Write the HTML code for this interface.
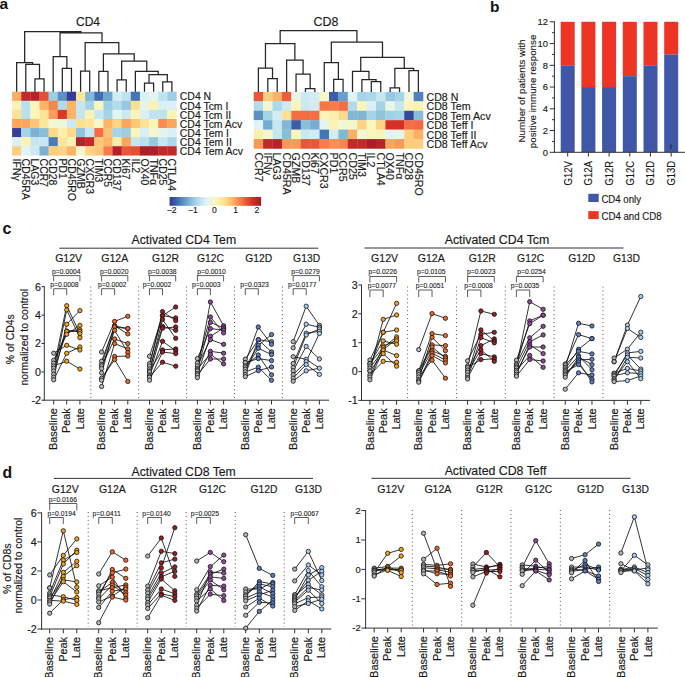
<!DOCTYPE html>
<html><head><meta charset="utf-8"><title>Figure</title>
<style>
html,body{margin:0;padding:0;background:#fff;}
body{width:685px;height:677px;overflow:hidden;}
svg{display:block;}
text{font-family:"Liberation Sans",sans-serif;}
</style></head>
<body><svg width="685" height="677" viewBox="0 0 685 677">
<rect width="685" height="677" fill="#fff"/>
<text x="-0.6" y="9.2" font-size="15.5" font-weight="bold" fill="#111">a</text>
<text x="76" y="26.4" font-size="12" fill="#1a1a1a" stroke="#1a1a1a" stroke-width="0.16">CD4</text>
<rect x="12.1" y="91.7" width="9.38" height="9.34" fill="#fdae61"/>
<rect x="21.23" y="91.7" width="9.38" height="9.34" fill="#c52828"/>
<rect x="30.36" y="91.7" width="9.38" height="9.34" fill="#b82229"/>
<rect x="39.49" y="91.7" width="9.38" height="9.34" fill="#e64e35"/>
<rect x="48.62" y="91.7" width="9.38" height="9.34" fill="#9dcee3"/>
<rect x="57.75" y="91.7" width="9.38" height="9.34" fill="#5d91c2"/>
<rect x="66.88" y="91.7" width="9.38" height="9.34" fill="#343e99"/>
<rect x="76.01" y="91.7" width="9.38" height="9.34" fill="#fde69c"/>
<rect x="85.14" y="91.7" width="9.38" height="9.34" fill="#82b8d7"/>
<rect x="94.27" y="91.7" width="9.38" height="9.34" fill="#426db0"/>
<rect x="103.4" y="91.7" width="9.38" height="9.34" fill="#6ea6cd"/>
<rect x="112.53" y="91.7" width="9.38" height="9.34" fill="#d3ecf4"/>
<rect x="121.66" y="91.7" width="9.38" height="9.34" fill="#bfe3ef"/>
<rect x="130.79" y="91.7" width="9.38" height="9.34" fill="#4575b4"/>
<rect x="139.92" y="91.7" width="9.38" height="9.34" fill="#d9f0f6"/>
<rect x="149.05" y="91.7" width="9.38" height="9.34" fill="#e3f4f1"/>
<rect x="158.18" y="91.7" width="9.38" height="9.34" fill="#bfe3ef"/>
<rect x="167.31" y="91.7" width="9.38" height="9.34" fill="#9dcee3"/>
<rect x="12.1" y="100.79" width="9.38" height="9.34" fill="#fcf2b4"/>
<rect x="21.23" y="100.79" width="9.38" height="9.34" fill="#b8e0ed"/>
<rect x="30.36" y="100.79" width="9.38" height="9.34" fill="#fbf5ba"/>
<rect x="39.49" y="100.79" width="9.38" height="9.34" fill="#fdb467"/>
<rect x="48.62" y="100.79" width="9.38" height="9.34" fill="#f7854e"/>
<rect x="57.75" y="100.79" width="9.38" height="9.34" fill="#b2dceb"/>
<rect x="66.88" y="100.79" width="9.38" height="9.34" fill="#fdb467"/>
<rect x="76.01" y="100.79" width="9.38" height="9.34" fill="#c6e6f0"/>
<rect x="85.14" y="100.79" width="9.38" height="9.34" fill="#a4d4e6"/>
<rect x="94.27" y="100.79" width="9.38" height="9.34" fill="#fbf5ba"/>
<rect x="103.4" y="100.79" width="9.38" height="9.34" fill="#9dcee3"/>
<rect x="112.53" y="100.79" width="9.38" height="9.34" fill="#b2dceb"/>
<rect x="121.66" y="100.79" width="9.38" height="9.34" fill="#96c8e0"/>
<rect x="130.79" y="100.79" width="9.38" height="9.34" fill="#fee090"/>
<rect x="139.92" y="100.79" width="9.38" height="9.34" fill="#e7f4ea"/>
<rect x="149.05" y="100.79" width="9.38" height="9.34" fill="#fcf2b4"/>
<rect x="158.18" y="100.79" width="9.38" height="9.34" fill="#d9f0f6"/>
<rect x="167.31" y="100.79" width="9.38" height="9.34" fill="#d9f0f6"/>
<rect x="12.1" y="109.88" width="9.38" height="9.34" fill="#fee396"/>
<rect x="21.23" y="109.88" width="9.38" height="9.34" fill="#b8e0ed"/>
<rect x="30.36" y="109.88" width="9.38" height="9.34" fill="#fbf5ba"/>
<rect x="39.49" y="109.88" width="9.38" height="9.34" fill="#fee396"/>
<rect x="48.62" y="109.88" width="9.38" height="9.34" fill="#fb9e5a"/>
<rect x="57.75" y="109.88" width="9.38" height="9.34" fill="#db382a"/>
<rect x="66.88" y="109.88" width="9.38" height="9.34" fill="#fdb467"/>
<rect x="76.01" y="109.88" width="9.38" height="9.34" fill="#c6e6f0"/>
<rect x="85.14" y="109.88" width="9.38" height="9.34" fill="#fcf2b4"/>
<rect x="94.27" y="109.88" width="9.38" height="9.34" fill="#c6e6f0"/>
<rect x="103.4" y="109.88" width="9.38" height="9.34" fill="#a4d4e6"/>
<rect x="112.53" y="109.88" width="9.38" height="9.34" fill="#e3f4f1"/>
<rect x="121.66" y="109.88" width="9.38" height="9.34" fill="#cce9f2"/>
<rect x="130.79" y="109.88" width="9.38" height="9.34" fill="#fbf5ba"/>
<rect x="139.92" y="109.88" width="9.38" height="9.34" fill="#d9f0f6"/>
<rect x="149.05" y="109.88" width="9.38" height="9.34" fill="#bfe3ef"/>
<rect x="158.18" y="109.88" width="9.38" height="9.34" fill="#bfe3ef"/>
<rect x="167.31" y="109.88" width="9.38" height="9.34" fill="#fcf3b6"/>
<rect x="12.1" y="118.97" width="9.38" height="9.34" fill="#fca65d"/>
<rect x="21.23" y="118.97" width="9.38" height="9.34" fill="#fca65d"/>
<rect x="30.36" y="118.97" width="9.38" height="9.34" fill="#fec778"/>
<rect x="39.49" y="118.97" width="9.38" height="9.34" fill="#fde69c"/>
<rect x="48.62" y="118.97" width="9.38" height="9.34" fill="#f1f6d5"/>
<rect x="57.75" y="118.97" width="9.38" height="9.34" fill="#f1f6d5"/>
<rect x="66.88" y="118.97" width="9.38" height="9.34" fill="#cce9f2"/>
<rect x="76.01" y="118.97" width="9.38" height="9.34" fill="#fee090"/>
<rect x="85.14" y="118.97" width="9.38" height="9.34" fill="#fde69c"/>
<rect x="94.27" y="118.97" width="9.38" height="9.34" fill="#f8f7c7"/>
<rect x="103.4" y="118.97" width="9.38" height="9.34" fill="#fdb467"/>
<rect x="112.53" y="118.97" width="9.38" height="9.34" fill="#fed484"/>
<rect x="121.66" y="118.97" width="9.38" height="9.34" fill="#fca65d"/>
<rect x="130.79" y="118.97" width="9.38" height="9.34" fill="#fec778"/>
<rect x="139.92" y="118.97" width="9.38" height="9.34" fill="#fee396"/>
<rect x="149.05" y="118.97" width="9.38" height="9.34" fill="#fcf3b6"/>
<rect x="158.18" y="118.97" width="9.38" height="9.34" fill="#f88e52"/>
<rect x="167.31" y="118.97" width="9.38" height="9.34" fill="#fca65d"/>
<rect x="12.1" y="128.06" width="9.38" height="9.34" fill="#343e99"/>
<rect x="21.23" y="128.06" width="9.38" height="9.34" fill="#a4d4e6"/>
<rect x="30.36" y="128.06" width="9.38" height="9.34" fill="#7bb2d4"/>
<rect x="39.49" y="128.06" width="9.38" height="9.34" fill="#89beda"/>
<rect x="48.62" y="128.06" width="9.38" height="9.34" fill="#feda8a"/>
<rect x="57.75" y="128.06" width="9.38" height="9.34" fill="#fcefae"/>
<rect x="66.88" y="128.06" width="9.38" height="9.34" fill="#feda8a"/>
<rect x="76.01" y="128.06" width="9.38" height="9.34" fill="#90c3dd"/>
<rect x="85.14" y="128.06" width="9.38" height="9.34" fill="#c6e6f0"/>
<rect x="94.27" y="128.06" width="9.38" height="9.34" fill="#f46d43"/>
<rect x="103.4" y="128.06" width="9.38" height="9.34" fill="#fdc173"/>
<rect x="112.53" y="128.06" width="9.38" height="9.34" fill="#a4d4e6"/>
<rect x="121.66" y="128.06" width="9.38" height="9.34" fill="#9dcee3"/>
<rect x="130.79" y="128.06" width="9.38" height="9.34" fill="#fbf5ba"/>
<rect x="139.92" y="128.06" width="9.38" height="9.34" fill="#d9f0f6"/>
<rect x="149.05" y="128.06" width="9.38" height="9.34" fill="#f4f7ce"/>
<rect x="158.18" y="128.06" width="9.38" height="9.34" fill="#e7f4ea"/>
<rect x="167.31" y="128.06" width="9.38" height="9.34" fill="#d9f0f6"/>
<rect x="12.1" y="137.15" width="9.38" height="9.34" fill="#d9f0f6"/>
<rect x="21.23" y="137.15" width="9.38" height="9.34" fill="#fcf2b4"/>
<rect x="30.36" y="137.15" width="9.38" height="9.34" fill="#c6e6f0"/>
<rect x="39.49" y="137.15" width="9.38" height="9.34" fill="#c6e6f0"/>
<rect x="48.62" y="137.15" width="9.38" height="9.34" fill="#4b7cb8"/>
<rect x="57.75" y="137.15" width="9.38" height="9.34" fill="#fde69c"/>
<rect x="66.88" y="137.15" width="9.38" height="9.34" fill="#fcf2b4"/>
<rect x="76.01" y="137.15" width="9.38" height="9.34" fill="#b82229"/>
<rect x="85.14" y="137.15" width="9.38" height="9.34" fill="#c82928"/>
<rect x="94.27" y="137.15" width="9.38" height="9.34" fill="#fec778"/>
<rect x="103.4" y="137.15" width="9.38" height="9.34" fill="#fdb467"/>
<rect x="112.53" y="137.15" width="9.38" height="9.34" fill="#fceca8"/>
<rect x="121.66" y="137.15" width="9.38" height="9.34" fill="#fca65d"/>
<rect x="130.79" y="137.15" width="9.38" height="9.34" fill="#c6e6f0"/>
<rect x="139.92" y="137.15" width="9.38" height="9.34" fill="#b8e0ed"/>
<rect x="149.05" y="137.15" width="9.38" height="9.34" fill="#96c8e0"/>
<rect x="158.18" y="137.15" width="9.38" height="9.34" fill="#c6e6f0"/>
<rect x="167.31" y="137.15" width="9.38" height="9.34" fill="#abd9e9"/>
<rect x="12.1" y="146.24" width="9.38" height="9.34" fill="#fecd7e"/>
<rect x="21.23" y="146.24" width="9.38" height="9.34" fill="#e0f3f8"/>
<rect x="30.36" y="146.24" width="9.38" height="9.34" fill="#cce9f2"/>
<rect x="39.49" y="146.24" width="9.38" height="9.34" fill="#7bb2d4"/>
<rect x="48.62" y="146.24" width="9.38" height="9.34" fill="#fecd7e"/>
<rect x="57.75" y="146.24" width="9.38" height="9.34" fill="#fed484"/>
<rect x="66.88" y="146.24" width="9.38" height="9.34" fill="#fdb467"/>
<rect x="76.01" y="146.24" width="9.38" height="9.34" fill="#f4f7ce"/>
<rect x="85.14" y="146.24" width="9.38" height="9.34" fill="#fed484"/>
<rect x="94.27" y="146.24" width="9.38" height="9.34" fill="#fec778"/>
<rect x="103.4" y="146.24" width="9.38" height="9.34" fill="#f67d4a"/>
<rect x="112.53" y="146.24" width="9.38" height="9.34" fill="#b52129"/>
<rect x="121.66" y="146.24" width="9.38" height="9.34" fill="#e95638"/>
<rect x="130.79" y="146.24" width="9.38" height="9.34" fill="#e64e35"/>
<rect x="139.92" y="146.24" width="9.38" height="9.34" fill="#ac1d2a"/>
<rect x="149.05" y="146.24" width="9.38" height="9.34" fill="#b01e29"/>
<rect x="158.18" y="146.24" width="9.38" height="9.34" fill="#c52828"/>
<rect x="167.31" y="146.24" width="9.38" height="9.34" fill="#c52828"/>
<text x="179.84" y="100.41" font-size="10.45" fill="#1a1a1a" stroke="#1a1a1a" stroke-width="0.16">CD4 N</text>
<text x="179.84" y="109.5" font-size="10.45" fill="#1a1a1a" stroke="#1a1a1a" stroke-width="0.16">CD4 Tcm I</text>
<text x="179.84" y="118.59" font-size="10.45" fill="#1a1a1a" stroke="#1a1a1a" stroke-width="0.16">CD4 Tcm II</text>
<text x="179.84" y="127.68" font-size="10.45" fill="#1a1a1a" stroke="#1a1a1a" stroke-width="0.16">CD4 Tcm Acv</text>
<text x="179.84" y="136.77" font-size="10.45" fill="#1a1a1a" stroke="#1a1a1a" stroke-width="0.16">CD4 Tem I</text>
<text x="179.84" y="145.86" font-size="10.45" fill="#1a1a1a" stroke="#1a1a1a" stroke-width="0.16">CD4 Tem II</text>
<text x="179.84" y="154.95" font-size="10.45" fill="#1a1a1a" stroke="#1a1a1a" stroke-width="0.16">CD4 Tem Acv</text>
<text transform="translate(12.9,158.6) rotate(90)" font-size="10.45" fill="#1a1a1a" stroke="#1a1a1a" stroke-width="0.16">IFNγ</text>
<text transform="translate(22.03,158.6) rotate(90)" font-size="10.45" fill="#1a1a1a" stroke="#1a1a1a" stroke-width="0.16">CD45RA</text>
<text transform="translate(31.16,158.6) rotate(90)" font-size="10.45" fill="#1a1a1a" stroke="#1a1a1a" stroke-width="0.16">LAG3</text>
<text transform="translate(40.29,158.6) rotate(90)" font-size="10.45" fill="#1a1a1a" stroke="#1a1a1a" stroke-width="0.16">CCR7</text>
<text transform="translate(49.42,158.6) rotate(90)" font-size="10.45" fill="#1a1a1a" stroke="#1a1a1a" stroke-width="0.16">CD28</text>
<text transform="translate(58.55,158.6) rotate(90)" font-size="10.45" fill="#1a1a1a" stroke="#1a1a1a" stroke-width="0.16">PD1</text>
<text transform="translate(67.68,158.6) rotate(90)" font-size="10.45" fill="#1a1a1a" stroke="#1a1a1a" stroke-width="0.16">CD45RO</text>
<text transform="translate(76.81,158.6) rotate(90)" font-size="10.45" fill="#1a1a1a" stroke="#1a1a1a" stroke-width="0.16">GZMB</text>
<text transform="translate(85.94,158.6) rotate(90)" font-size="10.45" fill="#1a1a1a" stroke="#1a1a1a" stroke-width="0.16">CXCR3</text>
<text transform="translate(95.07,158.6) rotate(90)" font-size="10.45" fill="#1a1a1a" stroke="#1a1a1a" stroke-width="0.16">TIM3</text>
<text transform="translate(104.2,158.6) rotate(90)" font-size="10.45" fill="#1a1a1a" stroke="#1a1a1a" stroke-width="0.16">CCR5</text>
<text transform="translate(113.33,158.6) rotate(90)" font-size="10.45" fill="#1a1a1a" stroke="#1a1a1a" stroke-width="0.16">CD137</text>
<text transform="translate(122.46,158.6) rotate(90)" font-size="10.45" fill="#1a1a1a" stroke="#1a1a1a" stroke-width="0.16">Ki67</text>
<text transform="translate(131.59,158.6) rotate(90)" font-size="10.45" fill="#1a1a1a" stroke="#1a1a1a" stroke-width="0.16">IL2</text>
<text transform="translate(140.72,158.6) rotate(90)" font-size="10.45" fill="#1a1a1a" stroke="#1a1a1a" stroke-width="0.16">OX40</text>
<text transform="translate(149.85,158.6) rotate(90)" font-size="10.45" fill="#1a1a1a" stroke="#1a1a1a" stroke-width="0.16">TNFα</text>
<text transform="translate(158.98,158.6) rotate(90)" font-size="10.45" fill="#1a1a1a" stroke="#1a1a1a" stroke-width="0.16">CD25</text>
<text transform="translate(168.11,158.6) rotate(90)" font-size="10.45" fill="#1a1a1a" stroke="#1a1a1a" stroke-width="0.16">CTLA4</text>
<path d="M34.93 91.7V78.9H44.05V91.7 M25.8 91.7V64.4H39.49V78.9 M16.66 91.7V62.7H32.64V64.4 M62.32 91.7V68.4H71.45V91.7 M53.19 91.7V56.5H66.88V68.4 M80.58 91.7V71.2H89.7V91.7 M98.84 91.7V71.3H107.97V91.7 M117.09 91.7V79.9H126.23V91.7 M144.49 91.7V83.2H153.62V91.7 M162.75 91.7V81.8H171.88V91.7 M149.05 83.2V74.7H167.31V81.8 M135.36 91.7V71.3H158.18V74.7 M121.66 79.9V61.1H146.77V71.3 M103.4 71.3V53.9H134.21V61.1 M85.14 71.2V42.7H118.81V53.9 M60.03 56.5V32.9H101.97V42.7 M24.65 62.7V31.6H81V32.9" fill="none" stroke="#262626" stroke-width="1.25"/>
<text x="313.5" y="26.4" font-size="12.4" fill="#1a1a1a" stroke="#1a1a1a" stroke-width="0.16">CD8</text>
<rect x="253.7" y="91.9" width="9.66" height="9.68" fill="#e95638"/>
<rect x="263.11" y="91.9" width="9.66" height="9.68" fill="#fecd7e"/>
<rect x="272.52" y="91.9" width="9.66" height="9.68" fill="#fdb467"/>
<rect x="281.93" y="91.9" width="9.66" height="9.68" fill="#ed5e3c"/>
<rect x="291.34" y="91.9" width="9.66" height="9.68" fill="#eaf5e3"/>
<rect x="300.75" y="91.9" width="9.66" height="9.68" fill="#cce9f2"/>
<rect x="310.16" y="91.9" width="9.66" height="9.68" fill="#d3ecf4"/>
<rect x="319.57" y="91.9" width="9.66" height="9.68" fill="#f8f7c7"/>
<rect x="328.98" y="91.9" width="9.66" height="9.68" fill="#3e5da8"/>
<rect x="338.39" y="91.9" width="9.66" height="9.68" fill="#689fca"/>
<rect x="347.8" y="91.9" width="9.66" height="9.68" fill="#e0f3f8"/>
<rect x="357.21" y="91.9" width="9.66" height="9.68" fill="#a4d4e6"/>
<rect x="366.62" y="91.9" width="9.66" height="9.68" fill="#abd9e9"/>
<rect x="376.03" y="91.9" width="9.66" height="9.68" fill="#c6e6f0"/>
<rect x="385.44" y="91.9" width="9.66" height="9.68" fill="#96c8e0"/>
<rect x="394.85" y="91.9" width="9.66" height="9.68" fill="#a4d4e6"/>
<rect x="404.26" y="91.9" width="9.66" height="9.68" fill="#eef6dc"/>
<rect x="413.67" y="91.9" width="9.66" height="9.68" fill="#5183bb"/>
<rect x="253.7" y="101.33" width="9.66" height="9.68" fill="#b2dceb"/>
<rect x="263.11" y="101.33" width="9.66" height="9.68" fill="#f1f6d5"/>
<rect x="272.52" y="101.33" width="9.66" height="9.68" fill="#abd9e9"/>
<rect x="281.93" y="101.33" width="9.66" height="9.68" fill="#cce9f2"/>
<rect x="291.34" y="101.33" width="9.66" height="9.68" fill="#fbf5ba"/>
<rect x="300.75" y="101.33" width="9.66" height="9.68" fill="#cce9f2"/>
<rect x="310.16" y="101.33" width="9.66" height="9.68" fill="#d3ecf4"/>
<rect x="319.57" y="101.33" width="9.66" height="9.68" fill="#f57547"/>
<rect x="328.98" y="101.33" width="9.66" height="9.68" fill="#f67d4a"/>
<rect x="338.39" y="101.33" width="9.66" height="9.68" fill="#f46d43"/>
<rect x="347.8" y="101.33" width="9.66" height="9.68" fill="#b2dceb"/>
<rect x="357.21" y="101.33" width="9.66" height="9.68" fill="#fbf5ba"/>
<rect x="366.62" y="101.33" width="9.66" height="9.68" fill="#d9f0f6"/>
<rect x="376.03" y="101.33" width="9.66" height="9.68" fill="#a4d4e6"/>
<rect x="385.44" y="101.33" width="9.66" height="9.68" fill="#eaf5e3"/>
<rect x="394.85" y="101.33" width="9.66" height="9.68" fill="#c6e6f0"/>
<rect x="404.26" y="101.33" width="9.66" height="9.68" fill="#fcf4b8"/>
<rect x="413.67" y="101.33" width="9.66" height="9.68" fill="#fcf2b4"/>
<rect x="253.7" y="110.76" width="9.66" height="9.68" fill="#5d91c2"/>
<rect x="263.11" y="110.76" width="9.66" height="9.68" fill="#a4d4e6"/>
<rect x="272.52" y="110.76" width="9.66" height="9.68" fill="#d3ecf4"/>
<rect x="281.93" y="110.76" width="9.66" height="9.68" fill="#fee090"/>
<rect x="291.34" y="110.76" width="9.66" height="9.68" fill="#f46d43"/>
<rect x="300.75" y="110.76" width="9.66" height="9.68" fill="#f46d43"/>
<rect x="310.16" y="110.76" width="9.66" height="9.68" fill="#f46d43"/>
<rect x="319.57" y="110.76" width="9.66" height="9.68" fill="#fbf5ba"/>
<rect x="328.98" y="110.76" width="9.66" height="9.68" fill="#fcefae"/>
<rect x="338.39" y="110.76" width="9.66" height="9.68" fill="#feda8a"/>
<rect x="347.8" y="110.76" width="9.66" height="9.68" fill="#82b8d7"/>
<rect x="357.21" y="110.76" width="9.66" height="9.68" fill="#7fb6d6"/>
<rect x="366.62" y="110.76" width="9.66" height="9.68" fill="#a4d4e6"/>
<rect x="376.03" y="110.76" width="9.66" height="9.68" fill="#90c3dd"/>
<rect x="385.44" y="110.76" width="9.66" height="9.68" fill="#a1d1e5"/>
<rect x="394.85" y="110.76" width="9.66" height="9.68" fill="#a4d4e6"/>
<rect x="404.26" y="110.76" width="9.66" height="9.68" fill="#36469d"/>
<rect x="413.67" y="110.76" width="9.66" height="9.68" fill="#89beda"/>
<rect x="253.7" y="120.19" width="9.66" height="9.68" fill="#e0f3f8"/>
<rect x="263.11" y="120.19" width="9.66" height="9.68" fill="#74add1"/>
<rect x="272.52" y="120.19" width="9.66" height="9.68" fill="#c6e6f0"/>
<rect x="281.93" y="120.19" width="9.66" height="9.68" fill="#82b8d7"/>
<rect x="291.34" y="120.19" width="9.66" height="9.68" fill="#3e5da8"/>
<rect x="300.75" y="120.19" width="9.66" height="9.68" fill="#89beda"/>
<rect x="310.16" y="120.19" width="9.66" height="9.68" fill="#74add1"/>
<rect x="319.57" y="120.19" width="9.66" height="9.68" fill="#e3f4f1"/>
<rect x="328.98" y="120.19" width="9.66" height="9.68" fill="#fcf2b4"/>
<rect x="338.39" y="120.19" width="9.66" height="9.68" fill="#f1f6d5"/>
<rect x="347.8" y="120.19" width="9.66" height="9.68" fill="#f4f7ce"/>
<rect x="357.21" y="120.19" width="9.66" height="9.68" fill="#fed484"/>
<rect x="366.62" y="120.19" width="9.66" height="9.68" fill="#fbf6bc"/>
<rect x="376.03" y="120.19" width="9.66" height="9.68" fill="#fed484"/>
<rect x="385.44" y="120.19" width="9.66" height="9.68" fill="#d52f27"/>
<rect x="394.85" y="120.19" width="9.66" height="9.68" fill="#d52f27"/>
<rect x="404.26" y="120.19" width="9.66" height="9.68" fill="#f46d43"/>
<rect x="413.67" y="120.19" width="9.66" height="9.68" fill="#f36a42"/>
<rect x="253.7" y="129.62" width="9.66" height="9.68" fill="#fcefae"/>
<rect x="263.11" y="129.62" width="9.66" height="9.68" fill="#f8f7c7"/>
<rect x="272.52" y="129.62" width="9.66" height="9.68" fill="#c6e6f0"/>
<rect x="281.93" y="129.62" width="9.66" height="9.68" fill="#89beda"/>
<rect x="291.34" y="129.62" width="9.66" height="9.68" fill="#fbf5ba"/>
<rect x="300.75" y="129.62" width="9.66" height="9.68" fill="#cce9f2"/>
<rect x="310.16" y="129.62" width="9.66" height="9.68" fill="#d3ecf4"/>
<rect x="319.57" y="129.62" width="9.66" height="9.68" fill="#4575b4"/>
<rect x="328.98" y="129.62" width="9.66" height="9.68" fill="#d3ecf4"/>
<rect x="338.39" y="129.62" width="9.66" height="9.68" fill="#82b8d7"/>
<rect x="347.8" y="129.62" width="9.66" height="9.68" fill="#fdb063"/>
<rect x="357.21" y="129.62" width="9.66" height="9.68" fill="#f1f6d5"/>
<rect x="366.62" y="129.62" width="9.66" height="9.68" fill="#fbf5ba"/>
<rect x="376.03" y="129.62" width="9.66" height="9.68" fill="#fbf4b9"/>
<rect x="385.44" y="129.62" width="9.66" height="9.68" fill="#e0f3f8"/>
<rect x="394.85" y="129.62" width="9.66" height="9.68" fill="#e7f4ea"/>
<rect x="404.26" y="129.62" width="9.66" height="9.68" fill="#fecd7e"/>
<rect x="413.67" y="129.62" width="9.66" height="9.68" fill="#fdb063"/>
<rect x="253.7" y="139.05" width="9.66" height="9.68" fill="#fa9656"/>
<rect x="263.11" y="139.05" width="9.66" height="9.68" fill="#c52828"/>
<rect x="272.52" y="139.05" width="9.66" height="9.68" fill="#b82229"/>
<rect x="281.93" y="139.05" width="9.66" height="9.68" fill="#fa9656"/>
<rect x="291.34" y="139.05" width="9.66" height="9.68" fill="#fa9a58"/>
<rect x="300.75" y="139.05" width="9.66" height="9.68" fill="#e95638"/>
<rect x="310.16" y="139.05" width="9.66" height="9.68" fill="#e95638"/>
<rect x="319.57" y="139.05" width="9.66" height="9.68" fill="#f67d4a"/>
<rect x="328.98" y="139.05" width="9.66" height="9.68" fill="#f88e52"/>
<rect x="338.39" y="139.05" width="9.66" height="9.68" fill="#f7854e"/>
<rect x="347.8" y="139.05" width="9.66" height="9.68" fill="#c52828"/>
<rect x="357.21" y="139.05" width="9.66" height="9.68" fill="#c52828"/>
<rect x="366.62" y="139.05" width="9.66" height="9.68" fill="#ac1d2a"/>
<rect x="376.03" y="139.05" width="9.66" height="9.68" fill="#b82229"/>
<rect x="385.44" y="139.05" width="9.66" height="9.68" fill="#fca65d"/>
<rect x="394.85" y="139.05" width="9.66" height="9.68" fill="#fa9a58"/>
<rect x="404.26" y="139.05" width="9.66" height="9.68" fill="#fecd7e"/>
<rect x="413.67" y="139.05" width="9.66" height="9.68" fill="#fecd7e"/>
<text x="426.48" y="100.85" font-size="10.65" fill="#1a1a1a" stroke="#1a1a1a" stroke-width="0.16">CD8 N</text>
<text x="426.48" y="110.28" font-size="10.65" fill="#1a1a1a" stroke="#1a1a1a" stroke-width="0.16">CD8 Tem</text>
<text x="426.48" y="119.71" font-size="10.65" fill="#1a1a1a" stroke="#1a1a1a" stroke-width="0.16">CD8 Tem Acv</text>
<text x="426.48" y="129.14" font-size="10.65" fill="#1a1a1a" stroke="#1a1a1a" stroke-width="0.16">CD8 Teff I</text>
<text x="426.48" y="138.57" font-size="10.65" fill="#1a1a1a" stroke="#1a1a1a" stroke-width="0.16">CD8 Teff II</text>
<text x="426.48" y="148" font-size="10.65" fill="#1a1a1a" stroke="#1a1a1a" stroke-width="0.16">CD8 Teff Acv</text>
<text transform="translate(254.57,152.6) rotate(90)" font-size="10.65" fill="#1a1a1a" stroke="#1a1a1a" stroke-width="0.16">CCR7</text>
<text transform="translate(263.98,152.6) rotate(90)" font-size="10.65" fill="#1a1a1a" stroke="#1a1a1a" stroke-width="0.16">IFNγ</text>
<text transform="translate(273.39,152.6) rotate(90)" font-size="10.65" fill="#1a1a1a" stroke="#1a1a1a" stroke-width="0.16">LAG3</text>
<text transform="translate(282.8,152.6) rotate(90)" font-size="10.65" fill="#1a1a1a" stroke="#1a1a1a" stroke-width="0.16">CD45RA</text>
<text transform="translate(292.21,152.6) rotate(90)" font-size="10.65" fill="#1a1a1a" stroke="#1a1a1a" stroke-width="0.16">GZMB</text>
<text transform="translate(301.62,152.6) rotate(90)" font-size="10.65" fill="#1a1a1a" stroke="#1a1a1a" stroke-width="0.16">CD137</text>
<text transform="translate(311.03,152.6) rotate(90)" font-size="10.65" fill="#1a1a1a" stroke="#1a1a1a" stroke-width="0.16">Ki67</text>
<text transform="translate(320.44,152.6) rotate(90)" font-size="10.65" fill="#1a1a1a" stroke="#1a1a1a" stroke-width="0.16">CXCR3</text>
<text transform="translate(329.85,152.6) rotate(90)" font-size="10.65" fill="#1a1a1a" stroke="#1a1a1a" stroke-width="0.16">PD1</text>
<text transform="translate(339.26,152.6) rotate(90)" font-size="10.65" fill="#1a1a1a" stroke="#1a1a1a" stroke-width="0.16">CCR5</text>
<text transform="translate(348.67,152.6) rotate(90)" font-size="10.65" fill="#1a1a1a" stroke="#1a1a1a" stroke-width="0.16">CD25</text>
<text transform="translate(358.08,152.6) rotate(90)" font-size="10.65" fill="#1a1a1a" stroke="#1a1a1a" stroke-width="0.16">TIM3</text>
<text transform="translate(367.49,152.6) rotate(90)" font-size="10.65" fill="#1a1a1a" stroke="#1a1a1a" stroke-width="0.16">IL2</text>
<text transform="translate(376.9,152.6) rotate(90)" font-size="10.65" fill="#1a1a1a" stroke="#1a1a1a" stroke-width="0.16">CTLA4</text>
<text transform="translate(386.31,152.6) rotate(90)" font-size="10.65" fill="#1a1a1a" stroke="#1a1a1a" stroke-width="0.16">OX40</text>
<text transform="translate(395.72,152.6) rotate(90)" font-size="10.65" fill="#1a1a1a" stroke="#1a1a1a" stroke-width="0.16">TNFα</text>
<text transform="translate(405.13,152.6) rotate(90)" font-size="10.65" fill="#1a1a1a" stroke="#1a1a1a" stroke-width="0.16">CD28</text>
<text transform="translate(414.54,152.6) rotate(90)" font-size="10.65" fill="#1a1a1a" stroke="#1a1a1a" stroke-width="0.16">CD45RO</text>
<path d="M267.81 91.9V78.5H277.22V91.9 M258.4 91.9V68.1H272.52V78.5 M305.45 91.9V88.6H314.87V91.9 M296.04 91.9V74.1H310.16V88.6 M286.63 91.9V60.1H303.1V74.1 M265.46 68.1V43.6H294.87V60.1 M333.69 91.9V79.4H343.09V91.9 M324.27 91.9V62.6H338.39V79.4 M371.32 91.9V81.5H380.74V91.9 M361.91 91.9V79.7H376.03V81.5 M352.5 91.9V71.4H368.97V79.7 M390.14 91.9V87.8H399.55V91.9 M408.97 91.9V70.6H418.38V91.9 M394.85 87.8V68.3H413.67V70.6 M360.74 71.4V57.3H404.26V68.3 M331.33 62.6V42H382.5V57.3 M280.17 43.6V30.5H356.92V42" fill="none" stroke="#262626" stroke-width="1.25"/>
<defs><linearGradient id="cb" x1="0" x2="1" y1="0" y2="0"><stop offset="0" stop-color="#313695"/><stop offset="0.1" stop-color="#4575b4"/><stop offset="0.2" stop-color="#74add1"/><stop offset="0.3" stop-color="#abd9e9"/><stop offset="0.4" stop-color="#e0f3f8"/><stop offset="0.5" stop-color="#fbf8c0"/><stop offset="0.6" stop-color="#fee090"/><stop offset="0.7" stop-color="#fdae61"/><stop offset="0.8" stop-color="#f46d43"/><stop offset="0.9" stop-color="#d73027"/><stop offset="1" stop-color="#a61a2a"/></linearGradient></defs>
<rect x="169.6" y="197" width="91.5" height="8.8" fill="url(#cb)"/>
<text x="171.6" y="213" font-size="8.6" text-anchor="middle" fill="#1a1a1a" stroke="#1a1a1a" stroke-width="0.13">−2</text>
<text x="192.95" y="213" font-size="8.6" text-anchor="middle" fill="#1a1a1a" stroke="#1a1a1a" stroke-width="0.13">−1</text>
<text x="214.3" y="213" font-size="8.6" text-anchor="middle" fill="#1a1a1a" stroke="#1a1a1a" stroke-width="0.13">0</text>
<text x="235.65" y="213" font-size="8.6" text-anchor="middle" fill="#1a1a1a" stroke="#1a1a1a" stroke-width="0.13">1</text>
<text x="257" y="213" font-size="8.6" text-anchor="middle" fill="#1a1a1a" stroke="#1a1a1a" stroke-width="0.13">2</text>
<text x="490" y="12" font-size="15.5" font-weight="bold" fill="#111">b</text>
<rect x="560.7" y="21.8" width="14" height="43.5" fill="#ee3424"/>
<rect x="560.7" y="65.3" width="14" height="87" fill="#3f57a6"/>
<line x1="567.7" y1="152.3" x2="567.7" y2="156.5" stroke="#333" stroke-width="1"/>
<text transform="translate(571.6,161) rotate(-90)" font-size="10.8" text-anchor="end" textLength="24.6" lengthAdjust="spacingAndGlyphs" fill="#1a1a1a" stroke="#1a1a1a" stroke-width="0.16">G12V</text>
<rect x="581.4" y="21.8" width="14" height="65.25" fill="#ee3424"/>
<rect x="581.4" y="87.05" width="14" height="65.25" fill="#3f57a6"/>
<line x1="588.4" y1="152.3" x2="588.4" y2="156.5" stroke="#333" stroke-width="1"/>
<text transform="translate(592.3,161) rotate(-90)" font-size="10.8" text-anchor="end" textLength="24.6" lengthAdjust="spacingAndGlyphs" fill="#1a1a1a" stroke="#1a1a1a" stroke-width="0.16">G12A</text>
<rect x="602.1" y="21.8" width="14" height="65.25" fill="#ee3424"/>
<rect x="602.1" y="87.05" width="14" height="65.25" fill="#3f57a6"/>
<line x1="609.1" y1="152.3" x2="609.1" y2="156.5" stroke="#333" stroke-width="1"/>
<text transform="translate(613,161) rotate(-90)" font-size="10.8" text-anchor="end" textLength="24.6" lengthAdjust="spacingAndGlyphs" fill="#1a1a1a" stroke="#1a1a1a" stroke-width="0.16">G12R</text>
<rect x="622.8" y="21.8" width="14" height="54.38" fill="#ee3424"/>
<rect x="622.8" y="76.18" width="14" height="76.12" fill="#3f57a6"/>
<line x1="629.8" y1="152.3" x2="629.8" y2="156.5" stroke="#333" stroke-width="1"/>
<text transform="translate(633.7,161) rotate(-90)" font-size="10.8" text-anchor="end" textLength="24.6" lengthAdjust="spacingAndGlyphs" fill="#1a1a1a" stroke="#1a1a1a" stroke-width="0.16">G12C</text>
<rect x="643.5" y="21.8" width="14" height="43.5" fill="#ee3424"/>
<rect x="643.5" y="65.3" width="14" height="87" fill="#3f57a6"/>
<line x1="650.5" y1="152.3" x2="650.5" y2="156.5" stroke="#333" stroke-width="1"/>
<text transform="translate(654.4,161) rotate(-90)" font-size="10.8" text-anchor="end" textLength="24.6" lengthAdjust="spacingAndGlyphs" fill="#1a1a1a" stroke="#1a1a1a" stroke-width="0.16">G12D</text>
<rect x="664.2" y="21.8" width="14" height="32.62" fill="#ee3424"/>
<rect x="664.2" y="54.43" width="14" height="97.88" fill="#3f57a6"/>
<line x1="671.2" y1="152.3" x2="671.2" y2="156.5" stroke="#333" stroke-width="1"/>
<text transform="translate(675.1,161) rotate(-90)" font-size="10.8" text-anchor="end" textLength="24.6" lengthAdjust="spacingAndGlyphs" fill="#1a1a1a" stroke="#1a1a1a" stroke-width="0.16">G13D</text>
<line x1="670.9" y1="144.2" x2="670.9" y2="149" stroke="#222" stroke-width="1"/>
<line x1="554.4" y1="21.3" x2="554.4" y2="152.8" stroke="#333" stroke-width="1"/>
<line x1="553.9" y1="152.3" x2="685" y2="152.3" stroke="#333" stroke-width="1"/>
<line x1="549.8" y1="152.3" x2="554.4" y2="152.3" stroke="#333" stroke-width="1"/>
<text x="547.9" y="155.7" font-size="9.4" text-anchor="end" fill="#1a1a1a" stroke="#1a1a1a" stroke-width="0.14">0</text>
<line x1="552" y1="141.43" x2="554.4" y2="141.43" stroke="#333" stroke-width="1"/>
<line x1="549.8" y1="130.55" x2="554.4" y2="130.55" stroke="#333" stroke-width="1"/>
<text x="547.9" y="133.95" font-size="9.4" text-anchor="end" fill="#1a1a1a" stroke="#1a1a1a" stroke-width="0.14">2</text>
<line x1="552" y1="119.68" x2="554.4" y2="119.68" stroke="#333" stroke-width="1"/>
<line x1="549.8" y1="108.8" x2="554.4" y2="108.8" stroke="#333" stroke-width="1"/>
<text x="547.9" y="112.2" font-size="9.4" text-anchor="end" fill="#1a1a1a" stroke="#1a1a1a" stroke-width="0.14">4</text>
<line x1="552" y1="97.93" x2="554.4" y2="97.93" stroke="#333" stroke-width="1"/>
<line x1="549.8" y1="87.05" x2="554.4" y2="87.05" stroke="#333" stroke-width="1"/>
<text x="547.9" y="90.45" font-size="9.4" text-anchor="end" fill="#1a1a1a" stroke="#1a1a1a" stroke-width="0.14">6</text>
<line x1="552" y1="76.18" x2="554.4" y2="76.18" stroke="#333" stroke-width="1"/>
<line x1="549.8" y1="65.3" x2="554.4" y2="65.3" stroke="#333" stroke-width="1"/>
<text x="547.9" y="68.7" font-size="9.4" text-anchor="end" fill="#1a1a1a" stroke="#1a1a1a" stroke-width="0.14">8</text>
<line x1="552" y1="54.43" x2="554.4" y2="54.43" stroke="#333" stroke-width="1"/>
<line x1="549.8" y1="43.55" x2="554.4" y2="43.55" stroke="#333" stroke-width="1"/>
<text x="547.9" y="46.95" font-size="9.4" text-anchor="end" fill="#1a1a1a" stroke="#1a1a1a" stroke-width="0.14">10</text>
<line x1="552" y1="32.68" x2="554.4" y2="32.68" stroke="#333" stroke-width="1"/>
<line x1="549.8" y1="21.8" x2="554.4" y2="21.8" stroke="#333" stroke-width="1"/>
<text x="547.9" y="25.2" font-size="9.4" text-anchor="end" fill="#1a1a1a" stroke="#1a1a1a" stroke-width="0.14">12</text>
<text transform="translate(524.7,91) rotate(-90)" font-size="9" text-anchor="middle" textLength="103" lengthAdjust="spacingAndGlyphs" fill="#1a1a1a" stroke="#1a1a1a" stroke-width="0.13">Number of patients with</text>
<text transform="translate(535.7,91.4) rotate(-90)" font-size="9" text-anchor="middle" textLength="113.5" lengthAdjust="spacingAndGlyphs" fill="#1a1a1a" stroke="#1a1a1a" stroke-width="0.13">positive immune response</text>
<rect x="588.3" y="193.8" width="10.4" height="8.2" fill="#3f57a6"/>
<text x="601.4" y="203.1" font-size="10" textLength="39.6" lengthAdjust="spacingAndGlyphs" fill="#1a1a1a" stroke="#1a1a1a" stroke-width="0.15">CD4 only</text>
<rect x="588.3" y="211.1" width="10.4" height="8" fill="#ee3424"/>
<text x="601.4" y="220.2" font-size="10" textLength="60.3" lengthAdjust="spacingAndGlyphs" fill="#1a1a1a" stroke="#1a1a1a" stroke-width="0.15">CD4 and CD8</text>
<text x="183.8" y="243.6" font-size="12" text-anchor="middle" textLength="104.6" lengthAdjust="spacingAndGlyphs" fill="#1a1a1a" stroke="#1a1a1a" stroke-width="0.16">Activated CD4 Tem</text>
<line x1="59.3" y1="248.2" x2="318.3" y2="248.2" stroke="#333" stroke-width="1"/>
<line x1="44.3" y1="286.2" x2="44.3" y2="400.7" stroke="#333" stroke-width="1"/>
<line x1="41.5" y1="286.7" x2="44.3" y2="286.7" stroke="#333" stroke-width="1"/>
<text x="40.9" y="290.55" font-size="10.7" text-anchor="end" fill="#1a1a1a" stroke="#1a1a1a" stroke-width="0.16">6</text>
<line x1="41.5" y1="315.1" x2="44.3" y2="315.1" stroke="#333" stroke-width="1"/>
<text x="40.9" y="318.95" font-size="10.7" text-anchor="end" fill="#1a1a1a" stroke="#1a1a1a" stroke-width="0.16">4</text>
<line x1="41.5" y1="343.5" x2="44.3" y2="343.5" stroke="#333" stroke-width="1"/>
<text x="40.9" y="347.35" font-size="10.7" text-anchor="end" fill="#1a1a1a" stroke="#1a1a1a" stroke-width="0.16">2</text>
<line x1="41.5" y1="371.9" x2="44.3" y2="371.9" stroke="#333" stroke-width="1"/>
<text x="40.9" y="375.75" font-size="10.7" text-anchor="end" fill="#1a1a1a" stroke="#1a1a1a" stroke-width="0.16">0</text>
<line x1="41.5" y1="400.2" x2="44.3" y2="400.2" stroke="#333" stroke-width="1"/>
<text x="40.9" y="404.05" font-size="10.7" text-anchor="end" fill="#1a1a1a" stroke="#1a1a1a" stroke-width="0.16">-2</text>
<line x1="43.8" y1="400.2" x2="329" y2="400.2" stroke="#333" stroke-width="1"/>
<text transform="translate(14.2,339.2) rotate(-90)" font-size="10.6" text-anchor="middle" textLength="50" lengthAdjust="spacingAndGlyphs" fill="#1a1a1a" stroke="#1a1a1a" stroke-width="0.16">% of CD4s</text>
<text transform="translate(27.6,337.2) rotate(-90)" font-size="10.6" text-anchor="middle" textLength="96.7" lengthAdjust="spacingAndGlyphs" fill="#1a1a1a" stroke="#1a1a1a" stroke-width="0.16">normalized to control</text>
<line x1="90.8" y1="286.5" x2="90.8" y2="398.2" stroke="#555" stroke-width="1" stroke-dasharray="1 2.95"/>
<line x1="138.7" y1="286.5" x2="138.7" y2="398.2" stroke="#555" stroke-width="1" stroke-dasharray="1 2.95"/>
<line x1="186.6" y1="286.5" x2="186.6" y2="398.2" stroke="#555" stroke-width="1" stroke-dasharray="1 2.95"/>
<line x1="234.5" y1="286.5" x2="234.5" y2="398.2" stroke="#555" stroke-width="1" stroke-dasharray="1 2.95"/>
<line x1="282.4" y1="286.5" x2="282.4" y2="398.2" stroke="#555" stroke-width="1" stroke-dasharray="1 2.95"/>
<line x1="53.7" y1="400.2" x2="53.7" y2="404.5" stroke="#333" stroke-width="1"/>
<text transform="translate(57.3,408.2) rotate(-90)" font-size="10.9" text-anchor="end" fill="#1a1a1a" stroke="#1a1a1a" stroke-width="0.16">Baseline</text>
<line x1="66.7" y1="400.2" x2="66.7" y2="404.5" stroke="#333" stroke-width="1"/>
<text transform="translate(70.3,408.2) rotate(-90)" font-size="10.9" text-anchor="end" fill="#1a1a1a" stroke="#1a1a1a" stroke-width="0.16">Peak</text>
<line x1="79.9" y1="400.2" x2="79.9" y2="404.5" stroke="#333" stroke-width="1"/>
<text transform="translate(83.5,408.2) rotate(-90)" font-size="10.9" text-anchor="end" fill="#1a1a1a" stroke="#1a1a1a" stroke-width="0.16">Late</text>
<text x="68.65" y="262.3" font-size="10.7" text-anchor="middle" textLength="27" lengthAdjust="spacingAndGlyphs" fill="#1a1a1a" stroke="#1a1a1a" stroke-width="0.16">G12V</text>
<path d="M53.7 281.4V275.6H79.9V281.4" fill="none" stroke="#333" stroke-width="0.8"/>
<text x="66.3" y="273.8" font-size="6.9" text-anchor="middle" textLength="28.5" lengthAdjust="spacingAndGlyphs" fill="#1a1a1a" stroke="#1a1a1a" stroke-width="0.1">p=0.0004</text>
<path d="M53.7 295.2V288.7H66.7V295.2" fill="none" stroke="#333" stroke-width="0.8"/>
<text x="64.4" y="287.2" font-size="6.9" text-anchor="middle" textLength="28.5" lengthAdjust="spacingAndGlyphs" fill="#1a1a1a" stroke="#1a1a1a" stroke-width="0.1">p=0.0008</text>
<line x1="101.6" y1="400.2" x2="101.6" y2="404.5" stroke="#333" stroke-width="1"/>
<text transform="translate(105.2,408.2) rotate(-90)" font-size="10.9" text-anchor="end" fill="#1a1a1a" stroke="#1a1a1a" stroke-width="0.16">Baseline</text>
<line x1="114.6" y1="400.2" x2="114.6" y2="404.5" stroke="#333" stroke-width="1"/>
<text transform="translate(118.2,408.2) rotate(-90)" font-size="10.9" text-anchor="end" fill="#1a1a1a" stroke="#1a1a1a" stroke-width="0.16">Peak</text>
<line x1="127.8" y1="400.2" x2="127.8" y2="404.5" stroke="#333" stroke-width="1"/>
<text transform="translate(131.4,408.2) rotate(-90)" font-size="10.9" text-anchor="end" fill="#1a1a1a" stroke="#1a1a1a" stroke-width="0.16">Late</text>
<text x="114.8" y="262.3" font-size="10.7" text-anchor="middle" textLength="27" lengthAdjust="spacingAndGlyphs" fill="#1a1a1a" stroke="#1a1a1a" stroke-width="0.16">G12A</text>
<path d="M101.6 281.4V275.6H127.8V281.4" fill="none" stroke="#333" stroke-width="0.8"/>
<text x="114.2" y="273.8" font-size="6.9" text-anchor="middle" textLength="28.5" lengthAdjust="spacingAndGlyphs" fill="#1a1a1a" stroke="#1a1a1a" stroke-width="0.1">p=0.0020</text>
<path d="M101.6 295.2V288.7H114.6V295.2" fill="none" stroke="#333" stroke-width="0.8"/>
<text x="112.3" y="287.2" font-size="6.9" text-anchor="middle" textLength="28.5" lengthAdjust="spacingAndGlyphs" fill="#1a1a1a" stroke="#1a1a1a" stroke-width="0.1">p=0.0002</text>
<line x1="149.5" y1="400.2" x2="149.5" y2="404.5" stroke="#333" stroke-width="1"/>
<text transform="translate(153.1,408.2) rotate(-90)" font-size="10.9" text-anchor="end" fill="#1a1a1a" stroke="#1a1a1a" stroke-width="0.16">Baseline</text>
<line x1="162.5" y1="400.2" x2="162.5" y2="404.5" stroke="#333" stroke-width="1"/>
<text transform="translate(166.1,408.2) rotate(-90)" font-size="10.9" text-anchor="end" fill="#1a1a1a" stroke="#1a1a1a" stroke-width="0.16">Peak</text>
<line x1="175.7" y1="400.2" x2="175.7" y2="404.5" stroke="#333" stroke-width="1"/>
<text transform="translate(179.3,408.2) rotate(-90)" font-size="10.9" text-anchor="end" fill="#1a1a1a" stroke="#1a1a1a" stroke-width="0.16">Late</text>
<text x="165.4" y="262.3" font-size="10.7" text-anchor="middle" textLength="27" lengthAdjust="spacingAndGlyphs" fill="#1a1a1a" stroke="#1a1a1a" stroke-width="0.16">G12R</text>
<path d="M149.5 281.4V275.6H175.7V281.4" fill="none" stroke="#333" stroke-width="0.8"/>
<text x="162.3" y="273.8" font-size="6.9" text-anchor="middle" textLength="28.5" lengthAdjust="spacingAndGlyphs" fill="#1a1a1a" stroke="#1a1a1a" stroke-width="0.1">p=0.0038</text>
<path d="M149.5 295.2V288.7H162.5V295.2" fill="none" stroke="#333" stroke-width="0.8"/>
<text x="157.1" y="287.2" font-size="6.9" text-anchor="middle" textLength="28.5" lengthAdjust="spacingAndGlyphs" fill="#1a1a1a" stroke="#1a1a1a" stroke-width="0.1">p=0.0002</text>
<line x1="197.4" y1="400.2" x2="197.4" y2="404.5" stroke="#333" stroke-width="1"/>
<text transform="translate(201,408.2) rotate(-90)" font-size="10.9" text-anchor="end" fill="#1a1a1a" stroke="#1a1a1a" stroke-width="0.16">Baseline</text>
<line x1="210.4" y1="400.2" x2="210.4" y2="404.5" stroke="#333" stroke-width="1"/>
<text transform="translate(214,408.2) rotate(-90)" font-size="10.9" text-anchor="end" fill="#1a1a1a" stroke="#1a1a1a" stroke-width="0.16">Peak</text>
<line x1="223.6" y1="400.2" x2="223.6" y2="404.5" stroke="#333" stroke-width="1"/>
<text transform="translate(227.2,408.2) rotate(-90)" font-size="10.9" text-anchor="end" fill="#1a1a1a" stroke="#1a1a1a" stroke-width="0.16">Late</text>
<text x="210.5" y="262.3" font-size="10.7" text-anchor="middle" textLength="27" lengthAdjust="spacingAndGlyphs" fill="#1a1a1a" stroke="#1a1a1a" stroke-width="0.16">G12C</text>
<path d="M197.4 281.4V275.6H223.6V281.4" fill="none" stroke="#333" stroke-width="0.8"/>
<text x="211.5" y="273.8" font-size="6.9" text-anchor="middle" textLength="28.5" lengthAdjust="spacingAndGlyphs" fill="#1a1a1a" stroke="#1a1a1a" stroke-width="0.1">p=0.0010</text>
<path d="M197.4 295.2V288.7H210.4V295.2" fill="none" stroke="#333" stroke-width="0.8"/>
<text x="206.3" y="287.2" font-size="6.9" text-anchor="middle" textLength="28.5" lengthAdjust="spacingAndGlyphs" fill="#1a1a1a" stroke="#1a1a1a" stroke-width="0.1">p=0.0003</text>
<line x1="245.3" y1="400.2" x2="245.3" y2="404.5" stroke="#333" stroke-width="1"/>
<text transform="translate(248.9,408.2) rotate(-90)" font-size="10.9" text-anchor="end" fill="#1a1a1a" stroke="#1a1a1a" stroke-width="0.16">Baseline</text>
<line x1="258.3" y1="400.2" x2="258.3" y2="404.5" stroke="#333" stroke-width="1"/>
<text transform="translate(261.9,408.2) rotate(-90)" font-size="10.9" text-anchor="end" fill="#1a1a1a" stroke="#1a1a1a" stroke-width="0.16">Peak</text>
<line x1="271.5" y1="400.2" x2="271.5" y2="404.5" stroke="#333" stroke-width="1"/>
<text transform="translate(275.1,408.2) rotate(-90)" font-size="10.9" text-anchor="end" fill="#1a1a1a" stroke="#1a1a1a" stroke-width="0.16">Late</text>
<text x="258.7" y="262.3" font-size="10.7" text-anchor="middle" textLength="27" lengthAdjust="spacingAndGlyphs" fill="#1a1a1a" stroke="#1a1a1a" stroke-width="0.16">G12D</text>
<path d="M245.3 295.2V288.7H258.3V295.2" fill="none" stroke="#333" stroke-width="0.8"/>
<text x="254.6" y="287.2" font-size="6.9" text-anchor="middle" textLength="28.5" lengthAdjust="spacingAndGlyphs" fill="#1a1a1a" stroke="#1a1a1a" stroke-width="0.1">p=0.0323</text>
<line x1="293.2" y1="400.2" x2="293.2" y2="404.5" stroke="#333" stroke-width="1"/>
<text transform="translate(296.8,408.2) rotate(-90)" font-size="10.9" text-anchor="end" fill="#1a1a1a" stroke="#1a1a1a" stroke-width="0.16">Baseline</text>
<line x1="306.2" y1="400.2" x2="306.2" y2="404.5" stroke="#333" stroke-width="1"/>
<text transform="translate(309.8,408.2) rotate(-90)" font-size="10.9" text-anchor="end" fill="#1a1a1a" stroke="#1a1a1a" stroke-width="0.16">Peak</text>
<line x1="319.4" y1="400.2" x2="319.4" y2="404.5" stroke="#333" stroke-width="1"/>
<text transform="translate(323,408.2) rotate(-90)" font-size="10.9" text-anchor="end" fill="#1a1a1a" stroke="#1a1a1a" stroke-width="0.16">Late</text>
<text x="306.6" y="262.3" font-size="10.7" text-anchor="middle" textLength="27" lengthAdjust="spacingAndGlyphs" fill="#1a1a1a" stroke="#1a1a1a" stroke-width="0.16">G13D</text>
<path d="M293.2 281.4V275.6H319.4V281.4" fill="none" stroke="#333" stroke-width="0.8"/>
<text x="305.6" y="273.8" font-size="6.9" text-anchor="middle" textLength="28.5" lengthAdjust="spacingAndGlyphs" fill="#1a1a1a" stroke="#1a1a1a" stroke-width="0.1">p=0.0279</text>
<path d="M293.2 295.2V288.7H306.2V295.2" fill="none" stroke="#333" stroke-width="0.8"/>
<text x="302.3" y="287.2" font-size="6.9" text-anchor="middle" textLength="28.5" lengthAdjust="spacingAndGlyphs" fill="#1a1a1a" stroke="#1a1a1a" stroke-width="0.1">p=0.0177</text>
<path d="M53.7 368.2L66.7 305.7L79.9 333.6 M53.7 374.2L66.7 309.9L79.9 337.6 M53.7 377.2L66.7 324.3L79.9 310.6 M53.7 363.2L66.7 331L79.9 329.9 M53.7 360.2L66.7 334.3L79.9 325.4 M53.7 353.2L66.7 345.3L79.9 350 M53.7 379.8L66.7 353.3L79.9 346.9 M53.7 366L66.7 361.2L79.9 369 M53.7 371L66.7 331.5L79.9 331.5 M101.6 352L114.6 321.4L127.8 316.3 M101.6 361.3L114.6 325.9L127.8 328.6 M101.6 364.5L114.6 325.9L127.8 333.9 M101.6 372.9L114.6 327L127.8 328.6 M101.6 368.5L114.6 330.3L127.8 352.5 M101.6 366L114.6 339L127.8 343.6 M101.6 386.5L114.6 343.6L127.8 348.9 M101.6 380.2L114.6 356.5L127.8 356 M101.6 378.2L114.6 359.6L127.8 381.5 M149.5 366L162.5 311.6L175.7 320.6 M149.5 356.3L162.5 315.6L175.7 307 M149.5 363.6L162.5 315.6L175.7 317.9 M149.5 372L162.5 319.4L175.7 338.3 M149.5 368.9L162.5 326.3L175.7 330.3 M149.5 374.9L162.5 328.3L175.7 327 M149.5 376L162.5 341.3L175.7 350.7 M149.5 371L162.5 349.9L175.7 348.9 M149.5 380.2L162.5 352L175.7 353.6 M149.5 377.3L162.5 362.2L175.7 366.2 M197.4 371L210.4 302L223.6 325.7 M197.4 363L210.4 317L223.6 332.9 M197.4 369.9L210.4 322.4L223.6 328 M197.4 358.6L210.4 328.6L223.6 330 M197.4 373.6L210.4 336.3L223.6 328 M197.4 366L210.4 339.7L223.6 344.3 M197.4 377.6L210.4 351.3L223.6 353.2 M197.4 368.6L210.4 354.3L223.6 363.9 M197.4 375L210.4 359L223.6 359 M245.3 362.6L258.3 327L271.5 344.3 M245.3 374.6L258.3 339.7L271.5 341.7 M245.3 359.2L258.3 339.7L271.5 351.9 M245.3 367L258.3 345.3L271.5 334.6 M245.3 369.2L258.3 348.3L271.5 354.6 M245.3 365.9L258.3 355L271.5 374.8 M245.3 362.6L258.3 358.6L271.5 360.6 M245.3 371.9L258.3 367.2L271.5 380.3 M245.3 376.6L258.3 370.6L271.5 367 M293.2 341.6L306.2 306.2L319.4 325.4 M293.2 347.8L306.2 324.2L319.4 327.2 M293.2 356.7L306.2 359.3L319.4 368.2 M293.2 363.5L306.2 333.2L319.4 331.3 M293.2 367.5L306.2 335L319.4 329 M293.2 370.8L306.2 346.4L319.4 359 M293.2 374.8L306.2 361.6L319.4 333.5 M293.2 378.2L306.2 364.5L319.4 374.4 M293.2 381.2L306.2 370.8L319.4 368.2" fill="none" stroke="#111" stroke-width="0.85"/>
<g stroke="#111" stroke-width="0.8">
<circle cx="53.7" cy="353.2" r="2.15" fill="#b4b4b4"/>
<circle cx="53.7" cy="360.2" r="2.15" fill="#b4b4b4"/>
<circle cx="53.7" cy="363.2" r="2.15" fill="#b4b4b4"/>
<circle cx="53.7" cy="366" r="2.15" fill="#b4b4b4"/>
<circle cx="53.7" cy="368.2" r="2.15" fill="#b4b4b4"/>
<circle cx="53.7" cy="371" r="2.15" fill="#b4b4b4"/>
<circle cx="53.7" cy="374.2" r="2.15" fill="#b4b4b4"/>
<circle cx="53.7" cy="377.2" r="2.15" fill="#b4b4b4"/>
<circle cx="53.7" cy="379.8" r="2.15" fill="#b4b4b4"/>
<circle cx="66.7" cy="305.7" r="2.15" fill="#f7a11a"/>
<circle cx="66.7" cy="309.9" r="2.15" fill="#f7a11a"/>
<circle cx="66.7" cy="324.3" r="2.15" fill="#f7a11a"/>
<circle cx="66.7" cy="331" r="2.15" fill="#f7a11a"/>
<circle cx="66.7" cy="331.5" r="2.15" fill="#f7a11a"/>
<circle cx="66.7" cy="334.3" r="2.15" fill="#f7a11a"/>
<circle cx="66.7" cy="345.3" r="2.15" fill="#f7a11a"/>
<circle cx="66.7" cy="353.3" r="2.15" fill="#f7a11a"/>
<circle cx="66.7" cy="361.2" r="2.15" fill="#f7a11a"/>
<circle cx="79.9" cy="310.6" r="2.15" fill="#f7a11a"/>
<circle cx="79.9" cy="325.4" r="2.15" fill="#f7a11a"/>
<circle cx="79.9" cy="329.9" r="2.15" fill="#f7a11a"/>
<circle cx="79.9" cy="331.5" r="2.15" fill="#f7a11a"/>
<circle cx="79.9" cy="333.6" r="2.15" fill="#f7a11a"/>
<circle cx="79.9" cy="337.6" r="2.15" fill="#f7a11a"/>
<circle cx="79.9" cy="346.9" r="2.15" fill="#f7a11a"/>
<circle cx="79.9" cy="350" r="2.15" fill="#f7a11a"/>
<circle cx="79.9" cy="369" r="2.15" fill="#f7a11a"/>
<circle cx="101.6" cy="352" r="2.15" fill="#b4b4b4"/>
<circle cx="101.6" cy="361.3" r="2.15" fill="#b4b4b4"/>
<circle cx="101.6" cy="364.5" r="2.15" fill="#b4b4b4"/>
<circle cx="101.6" cy="366" r="2.15" fill="#b4b4b4"/>
<circle cx="101.6" cy="368.5" r="2.15" fill="#b4b4b4"/>
<circle cx="101.6" cy="372.9" r="2.15" fill="#b4b4b4"/>
<circle cx="101.6" cy="378.2" r="2.15" fill="#b4b4b4"/>
<circle cx="101.6" cy="380.2" r="2.15" fill="#b4b4b4"/>
<circle cx="101.6" cy="386.5" r="2.15" fill="#b4b4b4"/>
<circle cx="114.6" cy="321.4" r="2.15" fill="#f26522"/>
<circle cx="114.6" cy="325.9" r="2.15" fill="#f26522"/>
<circle cx="114.6" cy="325.9" r="2.15" fill="#f26522"/>
<circle cx="114.6" cy="327" r="2.15" fill="#f26522"/>
<circle cx="114.6" cy="330.3" r="2.15" fill="#f26522"/>
<circle cx="114.6" cy="339" r="2.15" fill="#f26522"/>
<circle cx="114.6" cy="343.6" r="2.15" fill="#f26522"/>
<circle cx="114.6" cy="356.5" r="2.15" fill="#f26522"/>
<circle cx="114.6" cy="359.6" r="2.15" fill="#f26522"/>
<circle cx="127.8" cy="316.3" r="2.15" fill="#f26522"/>
<circle cx="127.8" cy="328.6" r="2.15" fill="#f26522"/>
<circle cx="127.8" cy="328.6" r="2.15" fill="#f26522"/>
<circle cx="127.8" cy="333.9" r="2.15" fill="#f26522"/>
<circle cx="127.8" cy="343.6" r="2.15" fill="#f26522"/>
<circle cx="127.8" cy="348.9" r="2.15" fill="#f26522"/>
<circle cx="127.8" cy="352.5" r="2.15" fill="#f26522"/>
<circle cx="127.8" cy="356" r="2.15" fill="#f26522"/>
<circle cx="127.8" cy="381.5" r="2.15" fill="#f26522"/>
<circle cx="149.5" cy="356.3" r="2.15" fill="#b4b4b4"/>
<circle cx="149.5" cy="363.6" r="2.15" fill="#b4b4b4"/>
<circle cx="149.5" cy="366" r="2.15" fill="#b4b4b4"/>
<circle cx="149.5" cy="368.9" r="2.15" fill="#b4b4b4"/>
<circle cx="149.5" cy="371" r="2.15" fill="#b4b4b4"/>
<circle cx="149.5" cy="372" r="2.15" fill="#b4b4b4"/>
<circle cx="149.5" cy="374.9" r="2.15" fill="#b4b4b4"/>
<circle cx="149.5" cy="376" r="2.15" fill="#b4b4b4"/>
<circle cx="149.5" cy="377.3" r="2.15" fill="#b4b4b4"/>
<circle cx="149.5" cy="380.2" r="2.15" fill="#b4b4b4"/>
<circle cx="162.5" cy="311.6" r="2.15" fill="#9e1c22"/>
<circle cx="162.5" cy="315.6" r="2.15" fill="#9e1c22"/>
<circle cx="162.5" cy="315.6" r="2.15" fill="#9e1c22"/>
<circle cx="162.5" cy="319.4" r="2.15" fill="#9e1c22"/>
<circle cx="162.5" cy="326.3" r="2.15" fill="#9e1c22"/>
<circle cx="162.5" cy="328.3" r="2.15" fill="#9e1c22"/>
<circle cx="162.5" cy="341.3" r="2.15" fill="#9e1c22"/>
<circle cx="162.5" cy="349.9" r="2.15" fill="#9e1c22"/>
<circle cx="162.5" cy="352" r="2.15" fill="#9e1c22"/>
<circle cx="162.5" cy="362.2" r="2.15" fill="#9e1c22"/>
<circle cx="175.7" cy="307" r="2.15" fill="#9e1c22"/>
<circle cx="175.7" cy="317.9" r="2.15" fill="#9e1c22"/>
<circle cx="175.7" cy="320.6" r="2.15" fill="#9e1c22"/>
<circle cx="175.7" cy="327" r="2.15" fill="#9e1c22"/>
<circle cx="175.7" cy="330.3" r="2.15" fill="#9e1c22"/>
<circle cx="175.7" cy="338.3" r="2.15" fill="#9e1c22"/>
<circle cx="175.7" cy="348.9" r="2.15" fill="#9e1c22"/>
<circle cx="175.7" cy="350.7" r="2.15" fill="#9e1c22"/>
<circle cx="175.7" cy="353.6" r="2.15" fill="#9e1c22"/>
<circle cx="175.7" cy="366.2" r="2.15" fill="#9e1c22"/>
<circle cx="197.4" cy="358.6" r="2.15" fill="#b4b4b4"/>
<circle cx="197.4" cy="363" r="2.15" fill="#b4b4b4"/>
<circle cx="197.4" cy="366" r="2.15" fill="#b4b4b4"/>
<circle cx="197.4" cy="368.6" r="2.15" fill="#b4b4b4"/>
<circle cx="197.4" cy="369.9" r="2.15" fill="#b4b4b4"/>
<circle cx="197.4" cy="371" r="2.15" fill="#b4b4b4"/>
<circle cx="197.4" cy="373.6" r="2.15" fill="#b4b4b4"/>
<circle cx="197.4" cy="375" r="2.15" fill="#b4b4b4"/>
<circle cx="197.4" cy="377.6" r="2.15" fill="#b4b4b4"/>
<circle cx="210.4" cy="302" r="2.15" fill="#91479c"/>
<circle cx="210.4" cy="317" r="2.15" fill="#91479c"/>
<circle cx="210.4" cy="322.4" r="2.15" fill="#91479c"/>
<circle cx="210.4" cy="328.6" r="2.15" fill="#91479c"/>
<circle cx="210.4" cy="336.3" r="2.15" fill="#91479c"/>
<circle cx="210.4" cy="339.7" r="2.15" fill="#91479c"/>
<circle cx="210.4" cy="351.3" r="2.15" fill="#91479c"/>
<circle cx="210.4" cy="354.3" r="2.15" fill="#91479c"/>
<circle cx="210.4" cy="359" r="2.15" fill="#91479c"/>
<circle cx="223.6" cy="325.7" r="2.15" fill="#91479c"/>
<circle cx="223.6" cy="328" r="2.15" fill="#91479c"/>
<circle cx="223.6" cy="328" r="2.15" fill="#91479c"/>
<circle cx="223.6" cy="330" r="2.15" fill="#91479c"/>
<circle cx="223.6" cy="332.9" r="2.15" fill="#91479c"/>
<circle cx="223.6" cy="344.3" r="2.15" fill="#91479c"/>
<circle cx="223.6" cy="353.2" r="2.15" fill="#91479c"/>
<circle cx="223.6" cy="359" r="2.15" fill="#91479c"/>
<circle cx="223.6" cy="363.9" r="2.15" fill="#91479c"/>
<circle cx="245.3" cy="359.2" r="2.15" fill="#b4b4b4"/>
<circle cx="245.3" cy="362.6" r="2.15" fill="#b4b4b4"/>
<circle cx="245.3" cy="362.6" r="2.15" fill="#b4b4b4"/>
<circle cx="245.3" cy="365.9" r="2.15" fill="#b4b4b4"/>
<circle cx="245.3" cy="367" r="2.15" fill="#b4b4b4"/>
<circle cx="245.3" cy="369.2" r="2.15" fill="#b4b4b4"/>
<circle cx="245.3" cy="371.9" r="2.15" fill="#b4b4b4"/>
<circle cx="245.3" cy="374.6" r="2.15" fill="#b4b4b4"/>
<circle cx="245.3" cy="376.6" r="2.15" fill="#b4b4b4"/>
<circle cx="258.3" cy="327" r="2.15" fill="#5b7fc7"/>
<circle cx="258.3" cy="339.7" r="2.15" fill="#5b7fc7"/>
<circle cx="258.3" cy="339.7" r="2.15" fill="#5b7fc7"/>
<circle cx="258.3" cy="345.3" r="2.15" fill="#5b7fc7"/>
<circle cx="258.3" cy="348.3" r="2.15" fill="#5b7fc7"/>
<circle cx="258.3" cy="355" r="2.15" fill="#5b7fc7"/>
<circle cx="258.3" cy="358.6" r="2.15" fill="#5b7fc7"/>
<circle cx="258.3" cy="367.2" r="2.15" fill="#5b7fc7"/>
<circle cx="258.3" cy="370.6" r="2.15" fill="#5b7fc7"/>
<circle cx="271.5" cy="334.6" r="2.15" fill="#5b7fc7"/>
<circle cx="271.5" cy="341.7" r="2.15" fill="#5b7fc7"/>
<circle cx="271.5" cy="344.3" r="2.15" fill="#5b7fc7"/>
<circle cx="271.5" cy="351.9" r="2.15" fill="#5b7fc7"/>
<circle cx="271.5" cy="354.6" r="2.15" fill="#5b7fc7"/>
<circle cx="271.5" cy="360.6" r="2.15" fill="#5b7fc7"/>
<circle cx="271.5" cy="367" r="2.15" fill="#5b7fc7"/>
<circle cx="271.5" cy="374.8" r="2.15" fill="#5b7fc7"/>
<circle cx="271.5" cy="380.3" r="2.15" fill="#5b7fc7"/>
<circle cx="293.2" cy="341.6" r="2.15" fill="#b4b4b4"/>
<circle cx="293.2" cy="347.8" r="2.15" fill="#b4b4b4"/>
<circle cx="293.2" cy="356.7" r="2.15" fill="#b4b4b4"/>
<circle cx="293.2" cy="363.5" r="2.15" fill="#b4b4b4"/>
<circle cx="293.2" cy="367.5" r="2.15" fill="#b4b4b4"/>
<circle cx="293.2" cy="370.8" r="2.15" fill="#b4b4b4"/>
<circle cx="293.2" cy="374.8" r="2.15" fill="#b4b4b4"/>
<circle cx="293.2" cy="378.2" r="2.15" fill="#b4b4b4"/>
<circle cx="293.2" cy="381.2" r="2.15" fill="#b4b4b4"/>
<circle cx="306.2" cy="306.2" r="2.15" fill="#a9cdf0"/>
<circle cx="306.2" cy="324.2" r="2.15" fill="#a9cdf0"/>
<circle cx="306.2" cy="333.2" r="2.15" fill="#a9cdf0"/>
<circle cx="306.2" cy="335" r="2.15" fill="#a9cdf0"/>
<circle cx="306.2" cy="346.4" r="2.15" fill="#a9cdf0"/>
<circle cx="306.2" cy="359.3" r="2.15" fill="#a9cdf0"/>
<circle cx="306.2" cy="361.6" r="2.15" fill="#a9cdf0"/>
<circle cx="306.2" cy="364.5" r="2.15" fill="#a9cdf0"/>
<circle cx="306.2" cy="370.8" r="2.15" fill="#a9cdf0"/>
<circle cx="319.4" cy="325.4" r="2.15" fill="#a9cdf0"/>
<circle cx="319.4" cy="327.2" r="2.15" fill="#a9cdf0"/>
<circle cx="319.4" cy="327.2" r="2.15" fill="#a9cdf0"/>
<circle cx="319.4" cy="329" r="2.15" fill="#a9cdf0"/>
<circle cx="319.4" cy="331.3" r="2.15" fill="#a9cdf0"/>
<circle cx="319.4" cy="333.5" r="2.15" fill="#a9cdf0"/>
<circle cx="319.4" cy="359" r="2.15" fill="#a9cdf0"/>
<circle cx="319.4" cy="368.2" r="2.15" fill="#a9cdf0"/>
<circle cx="319.4" cy="374.4" r="2.15" fill="#a9cdf0"/>
</g>
<text x="497" y="244.3" font-size="12" text-anchor="middle" textLength="104.6" lengthAdjust="spacingAndGlyphs" fill="#1a1a1a" stroke="#1a1a1a" stroke-width="0.16">Activated CD4 Tcm</text>
<line x1="364.5" y1="248" x2="623.5" y2="248" stroke="#333" stroke-width="1"/>
<line x1="361.5" y1="284.5" x2="361.5" y2="400.9" stroke="#333" stroke-width="1"/>
<line x1="358.3" y1="285" x2="361.5" y2="285" stroke="#333" stroke-width="1"/>
<text x="357.7" y="288.85" font-size="10.7" text-anchor="end" fill="#1a1a1a" stroke="#1a1a1a" stroke-width="0.16">3</text>
<line x1="358.3" y1="313.8" x2="361.5" y2="313.8" stroke="#333" stroke-width="1"/>
<text x="357.7" y="317.65" font-size="10.7" text-anchor="end" fill="#1a1a1a" stroke="#1a1a1a" stroke-width="0.16">2</text>
<line x1="358.3" y1="342.7" x2="361.5" y2="342.7" stroke="#333" stroke-width="1"/>
<text x="357.7" y="346.55" font-size="10.7" text-anchor="end" fill="#1a1a1a" stroke="#1a1a1a" stroke-width="0.16">1</text>
<line x1="358.3" y1="371.6" x2="361.5" y2="371.6" stroke="#333" stroke-width="1"/>
<text x="357.7" y="375.45" font-size="10.7" text-anchor="end" fill="#1a1a1a" stroke="#1a1a1a" stroke-width="0.16">0</text>
<line x1="358.3" y1="400.4" x2="361.5" y2="400.4" stroke="#333" stroke-width="1"/>
<text x="357.7" y="404.25" font-size="10.7" text-anchor="end" fill="#1a1a1a" stroke="#1a1a1a" stroke-width="0.16">-1</text>
<line x1="361" y1="400.4" x2="650.1" y2="400.4" stroke="#333" stroke-width="1"/>
<line x1="407.6" y1="286.5" x2="407.6" y2="398.4" stroke="#555" stroke-width="1" stroke-dasharray="1 2.95"/>
<line x1="456.44" y1="286.5" x2="456.44" y2="398.4" stroke="#555" stroke-width="1" stroke-dasharray="1 2.95"/>
<line x1="505.28" y1="286.5" x2="505.28" y2="398.4" stroke="#555" stroke-width="1" stroke-dasharray="1 2.95"/>
<line x1="554.12" y1="286.5" x2="554.12" y2="398.4" stroke="#555" stroke-width="1" stroke-dasharray="1 2.95"/>
<line x1="602.96" y1="286.5" x2="602.96" y2="398.4" stroke="#555" stroke-width="1" stroke-dasharray="1 2.95"/>
<line x1="369.9" y1="400.4" x2="369.9" y2="404.7" stroke="#333" stroke-width="1"/>
<text transform="translate(373.5,408.4) rotate(-90)" font-size="10.9" text-anchor="end" fill="#1a1a1a" stroke="#1a1a1a" stroke-width="0.16">Baseline</text>
<line x1="383.2" y1="400.4" x2="383.2" y2="404.7" stroke="#333" stroke-width="1"/>
<text transform="translate(386.8,408.4) rotate(-90)" font-size="10.9" text-anchor="end" fill="#1a1a1a" stroke="#1a1a1a" stroke-width="0.16">Peak</text>
<line x1="396.6" y1="400.4" x2="396.6" y2="404.7" stroke="#333" stroke-width="1"/>
<text transform="translate(400.2,408.4) rotate(-90)" font-size="10.9" text-anchor="end" fill="#1a1a1a" stroke="#1a1a1a" stroke-width="0.16">Late</text>
<text x="384.6" y="262.3" font-size="10.7" text-anchor="middle" textLength="27" lengthAdjust="spacingAndGlyphs" fill="#1a1a1a" stroke="#1a1a1a" stroke-width="0.16">G12V</text>
<path d="M369.9 282.4V276.5H396.6V282.4" fill="none" stroke="#333" stroke-width="0.8"/>
<text x="382.8" y="273.8" font-size="6.9" text-anchor="middle" textLength="28.5" lengthAdjust="spacingAndGlyphs" fill="#1a1a1a" stroke="#1a1a1a" stroke-width="0.1">p=0.0226</text>
<path d="M369.9 297V290H383.2V297" fill="none" stroke="#333" stroke-width="0.8"/>
<text x="381.9" y="287.6" font-size="6.9" text-anchor="middle" textLength="28.5" lengthAdjust="spacingAndGlyphs" fill="#1a1a1a" stroke="#1a1a1a" stroke-width="0.1">p=0.0077</text>
<line x1="418.74" y1="400.4" x2="418.74" y2="404.7" stroke="#333" stroke-width="1"/>
<text transform="translate(422.34,408.4) rotate(-90)" font-size="10.9" text-anchor="end" fill="#1a1a1a" stroke="#1a1a1a" stroke-width="0.16">Baseline</text>
<line x1="432.04" y1="400.4" x2="432.04" y2="404.7" stroke="#333" stroke-width="1"/>
<text transform="translate(435.64,408.4) rotate(-90)" font-size="10.9" text-anchor="end" fill="#1a1a1a" stroke="#1a1a1a" stroke-width="0.16">Peak</text>
<line x1="445.44" y1="400.4" x2="445.44" y2="404.7" stroke="#333" stroke-width="1"/>
<text transform="translate(449.04,408.4) rotate(-90)" font-size="10.9" text-anchor="end" fill="#1a1a1a" stroke="#1a1a1a" stroke-width="0.16">Late</text>
<text x="431.2" y="262.3" font-size="10.7" text-anchor="middle" textLength="27" lengthAdjust="spacingAndGlyphs" fill="#1a1a1a" stroke="#1a1a1a" stroke-width="0.16">G12A</text>
<path d="M418.74 282.4V276.5H445.44V282.4" fill="none" stroke="#333" stroke-width="0.8"/>
<text x="431.3" y="273.8" font-size="6.9" text-anchor="middle" textLength="28.5" lengthAdjust="spacingAndGlyphs" fill="#1a1a1a" stroke="#1a1a1a" stroke-width="0.1">p=0.0105</text>
<path d="M418.74 297V290H432.04V297" fill="none" stroke="#333" stroke-width="0.8"/>
<text x="430.1" y="287.6" font-size="6.9" text-anchor="middle" textLength="28.5" lengthAdjust="spacingAndGlyphs" fill="#1a1a1a" stroke="#1a1a1a" stroke-width="0.1">p=0.0051</text>
<line x1="467.58" y1="400.4" x2="467.58" y2="404.7" stroke="#333" stroke-width="1"/>
<text transform="translate(471.18,408.4) rotate(-90)" font-size="10.9" text-anchor="end" fill="#1a1a1a" stroke="#1a1a1a" stroke-width="0.16">Baseline</text>
<line x1="480.88" y1="400.4" x2="480.88" y2="404.7" stroke="#333" stroke-width="1"/>
<text transform="translate(484.48,408.4) rotate(-90)" font-size="10.9" text-anchor="end" fill="#1a1a1a" stroke="#1a1a1a" stroke-width="0.16">Peak</text>
<line x1="494.28" y1="400.4" x2="494.28" y2="404.7" stroke="#333" stroke-width="1"/>
<text transform="translate(497.88,408.4) rotate(-90)" font-size="10.9" text-anchor="end" fill="#1a1a1a" stroke="#1a1a1a" stroke-width="0.16">Late</text>
<text x="482.3" y="262.3" font-size="10.7" text-anchor="middle" textLength="27" lengthAdjust="spacingAndGlyphs" fill="#1a1a1a" stroke="#1a1a1a" stroke-width="0.16">G12R</text>
<path d="M467.58 282.4V276.5H494.28V282.4" fill="none" stroke="#333" stroke-width="0.8"/>
<text x="481.2" y="273.8" font-size="6.9" text-anchor="middle" textLength="28.5" lengthAdjust="spacingAndGlyphs" fill="#1a1a1a" stroke="#1a1a1a" stroke-width="0.1">p=0.0023</text>
<path d="M467.58 297V290H480.88V297" fill="none" stroke="#333" stroke-width="0.8"/>
<text x="478.5" y="287.6" font-size="6.9" text-anchor="middle" textLength="28.5" lengthAdjust="spacingAndGlyphs" fill="#1a1a1a" stroke="#1a1a1a" stroke-width="0.1">p=0.0008</text>
<line x1="516.42" y1="400.4" x2="516.42" y2="404.7" stroke="#333" stroke-width="1"/>
<text transform="translate(520.02,408.4) rotate(-90)" font-size="10.9" text-anchor="end" fill="#1a1a1a" stroke="#1a1a1a" stroke-width="0.16">Baseline</text>
<line x1="529.72" y1="400.4" x2="529.72" y2="404.7" stroke="#333" stroke-width="1"/>
<text transform="translate(533.32,408.4) rotate(-90)" font-size="10.9" text-anchor="end" fill="#1a1a1a" stroke="#1a1a1a" stroke-width="0.16">Peak</text>
<line x1="543.12" y1="400.4" x2="543.12" y2="404.7" stroke="#333" stroke-width="1"/>
<text transform="translate(546.72,408.4) rotate(-90)" font-size="10.9" text-anchor="end" fill="#1a1a1a" stroke="#1a1a1a" stroke-width="0.16">Late</text>
<text x="530.6" y="262.3" font-size="10.7" text-anchor="middle" textLength="27" lengthAdjust="spacingAndGlyphs" fill="#1a1a1a" stroke="#1a1a1a" stroke-width="0.16">G12C</text>
<path d="M516.42 282.4V276.5H543.12V282.4" fill="none" stroke="#333" stroke-width="0.8"/>
<text x="531.6" y="273.8" font-size="6.9" text-anchor="middle" textLength="28.5" lengthAdjust="spacingAndGlyphs" fill="#1a1a1a" stroke="#1a1a1a" stroke-width="0.1">p=0.0254</text>
<path d="M516.42 297V290H529.72V297" fill="none" stroke="#333" stroke-width="0.8"/>
<text x="525" y="287.6" font-size="6.9" text-anchor="middle" textLength="28.5" lengthAdjust="spacingAndGlyphs" fill="#1a1a1a" stroke="#1a1a1a" stroke-width="0.1">p=0.0035</text>
<line x1="565.26" y1="400.4" x2="565.26" y2="404.7" stroke="#333" stroke-width="1"/>
<text transform="translate(568.86,408.4) rotate(-90)" font-size="10.9" text-anchor="end" fill="#1a1a1a" stroke="#1a1a1a" stroke-width="0.16">Baseline</text>
<line x1="578.56" y1="400.4" x2="578.56" y2="404.7" stroke="#333" stroke-width="1"/>
<text transform="translate(582.16,408.4) rotate(-90)" font-size="10.9" text-anchor="end" fill="#1a1a1a" stroke="#1a1a1a" stroke-width="0.16">Peak</text>
<line x1="591.96" y1="400.4" x2="591.96" y2="404.7" stroke="#333" stroke-width="1"/>
<text transform="translate(595.56,408.4) rotate(-90)" font-size="10.9" text-anchor="end" fill="#1a1a1a" stroke="#1a1a1a" stroke-width="0.16">Late</text>
<text x="581.7" y="262.3" font-size="10.7" text-anchor="middle" textLength="27" lengthAdjust="spacingAndGlyphs" fill="#1a1a1a" stroke="#1a1a1a" stroke-width="0.16">G12D</text>
<line x1="614.1" y1="400.4" x2="614.1" y2="404.7" stroke="#333" stroke-width="1"/>
<text transform="translate(617.7,408.4) rotate(-90)" font-size="10.9" text-anchor="end" fill="#1a1a1a" stroke="#1a1a1a" stroke-width="0.16">Baseline</text>
<line x1="627.4" y1="400.4" x2="627.4" y2="404.7" stroke="#333" stroke-width="1"/>
<text transform="translate(631,408.4) rotate(-90)" font-size="10.9" text-anchor="end" fill="#1a1a1a" stroke="#1a1a1a" stroke-width="0.16">Peak</text>
<line x1="640.8" y1="400.4" x2="640.8" y2="404.7" stroke="#333" stroke-width="1"/>
<text transform="translate(644.4,408.4) rotate(-90)" font-size="10.9" text-anchor="end" fill="#1a1a1a" stroke="#1a1a1a" stroke-width="0.16">Late</text>
<text x="626.4" y="262.3" font-size="10.7" text-anchor="middle" textLength="27" lengthAdjust="spacingAndGlyphs" fill="#1a1a1a" stroke="#1a1a1a" stroke-width="0.16">G13D</text>
<path d="M369.9 371L383.2 319.4L396.6 315 M369.9 366L383.2 332.3L396.6 303.4 M369.9 360L383.2 332.3L396.6 330 M369.9 363.6L383.2 340.9L396.6 344.3 M369.9 377L383.2 346L396.6 340.9 M369.9 363.6L383.2 347.6L396.6 336.9 M369.9 379.8L383.2 349.9L396.6 338.9 M369.9 368.2L383.2 350L396.6 355.6 M369.9 371L383.2 353.6L396.6 366.2 M369.9 374.9L383.2 361.3L396.6 362.2 M418.74 349.6L432.04 313.6L445.44 318.3 M418.74 370.9L432.04 333.6L445.44 335.6 M418.74 379.6L432.04 337.3L445.44 350.7 M418.74 370.9L432.04 344.9L445.44 345.6 M418.74 372.5L432.04 347L445.44 358 M418.74 374.6L432.04 350.9L445.44 356.3 M418.74 381L432.04 353L445.44 360.2 M418.74 382.2L432.04 355.6L445.44 362.9 M418.74 377L432.04 360.2L445.44 378.2 M467.58 366L480.88 311L494.28 314.3 M467.58 375L480.88 329.9L494.28 340.9 M467.58 360.9L480.88 334.3L494.28 332.3 M467.58 378.9L480.88 337.6L494.28 342.9 M467.58 370L480.88 345.6L494.28 338.9 M467.58 372.2L480.88 349.6L494.28 361.3 M467.58 377.6L480.88 353.6L494.28 356.9 M467.58 367.6L480.88 359.6L494.28 358.9 M516.42 366.9L529.72 301.7L543.12 309.3 M516.42 365L529.72 320.9L543.12 315.2 M516.42 360.2L529.72 323.7L543.12 315.2 M516.42 363.9L529.72 337.8L543.12 326.3 M516.42 368L529.72 341.8L543.12 334.9 M516.42 374.3L529.72 344.8L543.12 353.6 M516.42 372L529.72 347L543.12 347 M516.42 370.3L529.72 355.5L543.12 367.3 M516.42 376.2L529.72 359.5L543.12 361 M565.26 367.3L578.56 323.3L591.96 326 M565.26 363.9L578.56 334.6L591.96 338.6 M565.26 369L578.56 349.3L591.96 338.6 M565.26 365L578.56 351.3L591.96 353.9 M565.26 370.6L578.56 355.9L591.96 369.7 M565.26 377.2L578.56 357L591.96 364.6 M565.26 375L578.56 359.9L591.96 359.3 M565.26 373.9L578.56 362L591.96 381.9 M565.26 372L578.56 364.6L591.96 379.2 M565.26 389.2L578.56 372.8L591.96 375 M614.1 361.7L627.4 325.1L640.8 296.5 M614.1 361.7L627.4 328.5L640.8 337.4 M614.1 358L627.4 349.2L640.8 332.2 M614.1 376L627.4 352.9L640.8 351.4 M614.1 374L627.4 355L640.8 369.1 M614.1 380L627.4 357.3L640.8 358 M614.1 378.7L627.4 361.7L640.8 378.7 M614.1 373.2L627.4 368.4L640.8 371 M614.1 375.7L627.4 372.8L640.8 373.5 M614.1 381.6L627.4 380.6L640.8 376" fill="none" stroke="#111" stroke-width="0.85"/>
<g stroke="#111" stroke-width="0.8">
<circle cx="369.9" cy="360" r="2.15" fill="#b4b4b4"/>
<circle cx="369.9" cy="363.6" r="2.15" fill="#b4b4b4"/>
<circle cx="369.9" cy="363.6" r="2.15" fill="#b4b4b4"/>
<circle cx="369.9" cy="366" r="2.15" fill="#b4b4b4"/>
<circle cx="369.9" cy="368.2" r="2.15" fill="#b4b4b4"/>
<circle cx="369.9" cy="371" r="2.15" fill="#b4b4b4"/>
<circle cx="369.9" cy="371" r="2.15" fill="#b4b4b4"/>
<circle cx="369.9" cy="374.9" r="2.15" fill="#b4b4b4"/>
<circle cx="369.9" cy="377" r="2.15" fill="#b4b4b4"/>
<circle cx="369.9" cy="379.8" r="2.15" fill="#b4b4b4"/>
<circle cx="383.2" cy="319.4" r="2.15" fill="#f7a11a"/>
<circle cx="383.2" cy="332.3" r="2.15" fill="#f7a11a"/>
<circle cx="383.2" cy="332.3" r="2.15" fill="#f7a11a"/>
<circle cx="383.2" cy="340.9" r="2.15" fill="#f7a11a"/>
<circle cx="383.2" cy="346" r="2.15" fill="#f7a11a"/>
<circle cx="383.2" cy="347.6" r="2.15" fill="#f7a11a"/>
<circle cx="383.2" cy="349.9" r="2.15" fill="#f7a11a"/>
<circle cx="383.2" cy="350" r="2.15" fill="#f7a11a"/>
<circle cx="383.2" cy="353.6" r="2.15" fill="#f7a11a"/>
<circle cx="383.2" cy="361.3" r="2.15" fill="#f7a11a"/>
<circle cx="396.6" cy="303.4" r="2.15" fill="#f7a11a"/>
<circle cx="396.6" cy="315" r="2.15" fill="#f7a11a"/>
<circle cx="396.6" cy="330" r="2.15" fill="#f7a11a"/>
<circle cx="396.6" cy="336.9" r="2.15" fill="#f7a11a"/>
<circle cx="396.6" cy="338.9" r="2.15" fill="#f7a11a"/>
<circle cx="396.6" cy="340.9" r="2.15" fill="#f7a11a"/>
<circle cx="396.6" cy="344.3" r="2.15" fill="#f7a11a"/>
<circle cx="396.6" cy="355.6" r="2.15" fill="#f7a11a"/>
<circle cx="396.6" cy="362.2" r="2.15" fill="#f7a11a"/>
<circle cx="396.6" cy="366.2" r="2.15" fill="#f7a11a"/>
<circle cx="418.74" cy="349.6" r="2.15" fill="#b4b4b4"/>
<circle cx="418.74" cy="370.9" r="2.15" fill="#b4b4b4"/>
<circle cx="418.74" cy="370.9" r="2.15" fill="#b4b4b4"/>
<circle cx="418.74" cy="372.5" r="2.15" fill="#b4b4b4"/>
<circle cx="418.74" cy="374.6" r="2.15" fill="#b4b4b4"/>
<circle cx="418.74" cy="377" r="2.15" fill="#b4b4b4"/>
<circle cx="418.74" cy="379.6" r="2.15" fill="#b4b4b4"/>
<circle cx="418.74" cy="381" r="2.15" fill="#b4b4b4"/>
<circle cx="418.74" cy="382.2" r="2.15" fill="#b4b4b4"/>
<circle cx="432.04" cy="313.6" r="2.15" fill="#f26522"/>
<circle cx="432.04" cy="333.6" r="2.15" fill="#f26522"/>
<circle cx="432.04" cy="337.3" r="2.15" fill="#f26522"/>
<circle cx="432.04" cy="344.9" r="2.15" fill="#f26522"/>
<circle cx="432.04" cy="347" r="2.15" fill="#f26522"/>
<circle cx="432.04" cy="350.9" r="2.15" fill="#f26522"/>
<circle cx="432.04" cy="353" r="2.15" fill="#f26522"/>
<circle cx="432.04" cy="355.6" r="2.15" fill="#f26522"/>
<circle cx="432.04" cy="360.2" r="2.15" fill="#f26522"/>
<circle cx="445.44" cy="318.3" r="2.15" fill="#f26522"/>
<circle cx="445.44" cy="335.6" r="2.15" fill="#f26522"/>
<circle cx="445.44" cy="345.6" r="2.15" fill="#f26522"/>
<circle cx="445.44" cy="350.7" r="2.15" fill="#f26522"/>
<circle cx="445.44" cy="356.3" r="2.15" fill="#f26522"/>
<circle cx="445.44" cy="358" r="2.15" fill="#f26522"/>
<circle cx="445.44" cy="360.2" r="2.15" fill="#f26522"/>
<circle cx="445.44" cy="362.9" r="2.15" fill="#f26522"/>
<circle cx="445.44" cy="378.2" r="2.15" fill="#f26522"/>
<circle cx="467.58" cy="360.9" r="2.15" fill="#b4b4b4"/>
<circle cx="467.58" cy="366" r="2.15" fill="#b4b4b4"/>
<circle cx="467.58" cy="367.6" r="2.15" fill="#b4b4b4"/>
<circle cx="467.58" cy="370" r="2.15" fill="#b4b4b4"/>
<circle cx="467.58" cy="372.2" r="2.15" fill="#b4b4b4"/>
<circle cx="467.58" cy="375" r="2.15" fill="#b4b4b4"/>
<circle cx="467.58" cy="377.6" r="2.15" fill="#b4b4b4"/>
<circle cx="467.58" cy="378.9" r="2.15" fill="#b4b4b4"/>
<circle cx="480.88" cy="311" r="2.15" fill="#9e1c22"/>
<circle cx="480.88" cy="329.9" r="2.15" fill="#9e1c22"/>
<circle cx="480.88" cy="334.3" r="2.15" fill="#9e1c22"/>
<circle cx="480.88" cy="337.6" r="2.15" fill="#9e1c22"/>
<circle cx="480.88" cy="345.6" r="2.15" fill="#9e1c22"/>
<circle cx="480.88" cy="349.6" r="2.15" fill="#9e1c22"/>
<circle cx="480.88" cy="353.6" r="2.15" fill="#9e1c22"/>
<circle cx="480.88" cy="359.6" r="2.15" fill="#9e1c22"/>
<circle cx="494.28" cy="314.3" r="2.15" fill="#9e1c22"/>
<circle cx="494.28" cy="332.3" r="2.15" fill="#9e1c22"/>
<circle cx="494.28" cy="338.9" r="2.15" fill="#9e1c22"/>
<circle cx="494.28" cy="340.9" r="2.15" fill="#9e1c22"/>
<circle cx="494.28" cy="342.9" r="2.15" fill="#9e1c22"/>
<circle cx="494.28" cy="356.9" r="2.15" fill="#9e1c22"/>
<circle cx="494.28" cy="358.9" r="2.15" fill="#9e1c22"/>
<circle cx="494.28" cy="361.3" r="2.15" fill="#9e1c22"/>
<circle cx="516.42" cy="360.2" r="2.15" fill="#b4b4b4"/>
<circle cx="516.42" cy="363.9" r="2.15" fill="#b4b4b4"/>
<circle cx="516.42" cy="365" r="2.15" fill="#b4b4b4"/>
<circle cx="516.42" cy="366.9" r="2.15" fill="#b4b4b4"/>
<circle cx="516.42" cy="368" r="2.15" fill="#b4b4b4"/>
<circle cx="516.42" cy="370.3" r="2.15" fill="#b4b4b4"/>
<circle cx="516.42" cy="372" r="2.15" fill="#b4b4b4"/>
<circle cx="516.42" cy="374.3" r="2.15" fill="#b4b4b4"/>
<circle cx="516.42" cy="376.2" r="2.15" fill="#b4b4b4"/>
<circle cx="529.72" cy="301.7" r="2.15" fill="#91479c"/>
<circle cx="529.72" cy="320.9" r="2.15" fill="#91479c"/>
<circle cx="529.72" cy="323.7" r="2.15" fill="#91479c"/>
<circle cx="529.72" cy="337.8" r="2.15" fill="#91479c"/>
<circle cx="529.72" cy="341.8" r="2.15" fill="#91479c"/>
<circle cx="529.72" cy="344.8" r="2.15" fill="#91479c"/>
<circle cx="529.72" cy="347" r="2.15" fill="#91479c"/>
<circle cx="529.72" cy="355.5" r="2.15" fill="#91479c"/>
<circle cx="529.72" cy="359.5" r="2.15" fill="#91479c"/>
<circle cx="543.12" cy="309.3" r="2.15" fill="#91479c"/>
<circle cx="543.12" cy="315.2" r="2.15" fill="#91479c"/>
<circle cx="543.12" cy="315.2" r="2.15" fill="#91479c"/>
<circle cx="543.12" cy="326.3" r="2.15" fill="#91479c"/>
<circle cx="543.12" cy="334.9" r="2.15" fill="#91479c"/>
<circle cx="543.12" cy="347" r="2.15" fill="#91479c"/>
<circle cx="543.12" cy="353.6" r="2.15" fill="#91479c"/>
<circle cx="543.12" cy="361" r="2.15" fill="#91479c"/>
<circle cx="543.12" cy="367.3" r="2.15" fill="#91479c"/>
<circle cx="565.26" cy="363.9" r="2.15" fill="#b4b4b4"/>
<circle cx="565.26" cy="365" r="2.15" fill="#b4b4b4"/>
<circle cx="565.26" cy="367.3" r="2.15" fill="#b4b4b4"/>
<circle cx="565.26" cy="369" r="2.15" fill="#b4b4b4"/>
<circle cx="565.26" cy="370.6" r="2.15" fill="#b4b4b4"/>
<circle cx="565.26" cy="372" r="2.15" fill="#b4b4b4"/>
<circle cx="565.26" cy="373.9" r="2.15" fill="#b4b4b4"/>
<circle cx="565.26" cy="375" r="2.15" fill="#b4b4b4"/>
<circle cx="565.26" cy="377.2" r="2.15" fill="#b4b4b4"/>
<circle cx="565.26" cy="389.2" r="2.15" fill="#b4b4b4"/>
<circle cx="578.56" cy="323.3" r="2.15" fill="#5b7fc7"/>
<circle cx="578.56" cy="334.6" r="2.15" fill="#5b7fc7"/>
<circle cx="578.56" cy="349.3" r="2.15" fill="#5b7fc7"/>
<circle cx="578.56" cy="351.3" r="2.15" fill="#5b7fc7"/>
<circle cx="578.56" cy="355.9" r="2.15" fill="#5b7fc7"/>
<circle cx="578.56" cy="357" r="2.15" fill="#5b7fc7"/>
<circle cx="578.56" cy="359.9" r="2.15" fill="#5b7fc7"/>
<circle cx="578.56" cy="362" r="2.15" fill="#5b7fc7"/>
<circle cx="578.56" cy="364.6" r="2.15" fill="#5b7fc7"/>
<circle cx="578.56" cy="372.8" r="2.15" fill="#5b7fc7"/>
<circle cx="591.96" cy="326" r="2.15" fill="#5b7fc7"/>
<circle cx="591.96" cy="338.6" r="2.15" fill="#5b7fc7"/>
<circle cx="591.96" cy="338.6" r="2.15" fill="#5b7fc7"/>
<circle cx="591.96" cy="353.9" r="2.15" fill="#5b7fc7"/>
<circle cx="591.96" cy="359.3" r="2.15" fill="#5b7fc7"/>
<circle cx="591.96" cy="364.6" r="2.15" fill="#5b7fc7"/>
<circle cx="591.96" cy="369.7" r="2.15" fill="#5b7fc7"/>
<circle cx="591.96" cy="375" r="2.15" fill="#5b7fc7"/>
<circle cx="591.96" cy="379.2" r="2.15" fill="#5b7fc7"/>
<circle cx="591.96" cy="381.9" r="2.15" fill="#5b7fc7"/>
<circle cx="614.1" cy="358" r="2.15" fill="#b4b4b4"/>
<circle cx="614.1" cy="361.7" r="2.15" fill="#b4b4b4"/>
<circle cx="614.1" cy="361.7" r="2.15" fill="#b4b4b4"/>
<circle cx="614.1" cy="373.2" r="2.15" fill="#b4b4b4"/>
<circle cx="614.1" cy="374" r="2.15" fill="#b4b4b4"/>
<circle cx="614.1" cy="375.7" r="2.15" fill="#b4b4b4"/>
<circle cx="614.1" cy="376" r="2.15" fill="#b4b4b4"/>
<circle cx="614.1" cy="378.7" r="2.15" fill="#b4b4b4"/>
<circle cx="614.1" cy="380" r="2.15" fill="#b4b4b4"/>
<circle cx="614.1" cy="381.6" r="2.15" fill="#b4b4b4"/>
<circle cx="627.4" cy="325.1" r="2.15" fill="#a9cdf0"/>
<circle cx="627.4" cy="328.5" r="2.15" fill="#a9cdf0"/>
<circle cx="627.4" cy="349.2" r="2.15" fill="#a9cdf0"/>
<circle cx="627.4" cy="352.9" r="2.15" fill="#a9cdf0"/>
<circle cx="627.4" cy="355" r="2.15" fill="#a9cdf0"/>
<circle cx="627.4" cy="357.3" r="2.15" fill="#a9cdf0"/>
<circle cx="627.4" cy="361.7" r="2.15" fill="#a9cdf0"/>
<circle cx="627.4" cy="368.4" r="2.15" fill="#a9cdf0"/>
<circle cx="627.4" cy="372.8" r="2.15" fill="#a9cdf0"/>
<circle cx="627.4" cy="380.6" r="2.15" fill="#a9cdf0"/>
<circle cx="640.8" cy="296.5" r="2.15" fill="#a9cdf0"/>
<circle cx="640.8" cy="332.2" r="2.15" fill="#a9cdf0"/>
<circle cx="640.8" cy="337.4" r="2.15" fill="#a9cdf0"/>
<circle cx="640.8" cy="351.4" r="2.15" fill="#a9cdf0"/>
<circle cx="640.8" cy="358" r="2.15" fill="#a9cdf0"/>
<circle cx="640.8" cy="369.1" r="2.15" fill="#a9cdf0"/>
<circle cx="640.8" cy="371" r="2.15" fill="#a9cdf0"/>
<circle cx="640.8" cy="373.5" r="2.15" fill="#a9cdf0"/>
<circle cx="640.8" cy="376" r="2.15" fill="#a9cdf0"/>
<circle cx="640.8" cy="378.7" r="2.15" fill="#a9cdf0"/>
</g>
<text x="183.6" y="475.7" font-size="12" text-anchor="middle" textLength="104.2" lengthAdjust="spacingAndGlyphs" fill="#1a1a1a" stroke="#1a1a1a" stroke-width="0.16">Activated CD8 Tem</text>
<line x1="53.9" y1="478.4" x2="313" y2="478.4" stroke="#333" stroke-width="1"/>
<line x1="41.6" y1="512.4" x2="41.6" y2="629.5" stroke="#333" stroke-width="1"/>
<line x1="37.4" y1="512.9" x2="41.6" y2="512.9" stroke="#333" stroke-width="1"/>
<text x="36.8" y="516.75" font-size="10.7" text-anchor="end" fill="#1a1a1a" stroke="#1a1a1a" stroke-width="0.16">6</text>
<line x1="37.4" y1="541.9" x2="41.6" y2="541.9" stroke="#333" stroke-width="1"/>
<text x="36.8" y="545.75" font-size="10.7" text-anchor="end" fill="#1a1a1a" stroke="#1a1a1a" stroke-width="0.16">4</text>
<line x1="37.4" y1="571" x2="41.6" y2="571" stroke="#333" stroke-width="1"/>
<text x="36.8" y="574.85" font-size="10.7" text-anchor="end" fill="#1a1a1a" stroke="#1a1a1a" stroke-width="0.16">2</text>
<line x1="37.4" y1="600" x2="41.6" y2="600" stroke="#333" stroke-width="1"/>
<text x="36.8" y="603.85" font-size="10.7" text-anchor="end" fill="#1a1a1a" stroke="#1a1a1a" stroke-width="0.16">0</text>
<line x1="37.4" y1="629" x2="41.6" y2="629" stroke="#333" stroke-width="1"/>
<text x="36.8" y="632.85" font-size="10.7" text-anchor="end" fill="#1a1a1a" stroke="#1a1a1a" stroke-width="0.16">-2</text>
<line x1="41.1" y1="629" x2="331.3" y2="629" stroke="#333" stroke-width="1"/>
<text transform="translate(11.2,568.7) rotate(-90)" font-size="10.6" text-anchor="middle" textLength="50.6" lengthAdjust="spacingAndGlyphs" fill="#1a1a1a" stroke="#1a1a1a" stroke-width="0.16">% of CD8s</text>
<text transform="translate(22.2,565.6) rotate(-90)" font-size="10.6" text-anchor="middle" textLength="96" lengthAdjust="spacingAndGlyphs" fill="#1a1a1a" stroke="#1a1a1a" stroke-width="0.16">normalized to control</text>
<line x1="88.2" y1="512" x2="88.2" y2="627" stroke="#555" stroke-width="1" stroke-dasharray="1 2.95"/>
<line x1="137.2" y1="512" x2="137.2" y2="627" stroke="#555" stroke-width="1" stroke-dasharray="1 2.95"/>
<line x1="186.2" y1="512" x2="186.2" y2="627" stroke="#555" stroke-width="1" stroke-dasharray="1 2.95"/>
<line x1="235.2" y1="512" x2="235.2" y2="627" stroke="#555" stroke-width="1" stroke-dasharray="1 2.95"/>
<line x1="284.2" y1="512" x2="284.2" y2="627" stroke="#555" stroke-width="1" stroke-dasharray="1 2.95"/>
<line x1="49.7" y1="629" x2="49.7" y2="633.3" stroke="#333" stroke-width="1"/>
<text transform="translate(53.3,637) rotate(-90)" font-size="10.9" text-anchor="end" fill="#1a1a1a" stroke="#1a1a1a" stroke-width="0.16">Baseline</text>
<line x1="63.3" y1="629" x2="63.3" y2="633.3" stroke="#333" stroke-width="1"/>
<text transform="translate(66.9,637) rotate(-90)" font-size="10.9" text-anchor="end" fill="#1a1a1a" stroke="#1a1a1a" stroke-width="0.16">Peak</text>
<line x1="76.8" y1="629" x2="76.8" y2="633.3" stroke="#333" stroke-width="1"/>
<text transform="translate(80.4,637) rotate(-90)" font-size="10.9" text-anchor="end" fill="#1a1a1a" stroke="#1a1a1a" stroke-width="0.16">Late</text>
<text x="65.2" y="493.1" font-size="10.7" text-anchor="middle" textLength="27" lengthAdjust="spacingAndGlyphs" fill="#1a1a1a" stroke="#1a1a1a" stroke-width="0.16">G12V</text>
<path d="M49.7 510.5V503.5H76.8V510.5" fill="none" stroke="#333" stroke-width="0.8"/>
<text x="62.9" y="502.1" font-size="6.9" text-anchor="middle" textLength="28.4" lengthAdjust="spacingAndGlyphs" fill="#1a1a1a" stroke="#1a1a1a" stroke-width="0.1">p=0.0166</text>
<path d="M49.7 523.9V517.5H63.3V523.9" fill="none" stroke="#333" stroke-width="0.8"/>
<text x="61.6" y="515.6" font-size="6.9" text-anchor="middle" textLength="28.4" lengthAdjust="spacingAndGlyphs" fill="#1a1a1a" stroke="#1a1a1a" stroke-width="0.1">p=0.0194</text>
<line x1="98.7" y1="629" x2="98.7" y2="633.3" stroke="#333" stroke-width="1"/>
<text transform="translate(102.3,637) rotate(-90)" font-size="10.9" text-anchor="end" fill="#1a1a1a" stroke="#1a1a1a" stroke-width="0.16">Baseline</text>
<line x1="112.3" y1="629" x2="112.3" y2="633.3" stroke="#333" stroke-width="1"/>
<text transform="translate(115.9,637) rotate(-90)" font-size="10.9" text-anchor="end" fill="#1a1a1a" stroke="#1a1a1a" stroke-width="0.16">Peak</text>
<line x1="125.8" y1="629" x2="125.8" y2="633.3" stroke="#333" stroke-width="1"/>
<text transform="translate(129.4,637) rotate(-90)" font-size="10.9" text-anchor="end" fill="#1a1a1a" stroke="#1a1a1a" stroke-width="0.16">Late</text>
<text x="112.4" y="493.1" font-size="10.7" text-anchor="middle" textLength="27" lengthAdjust="spacingAndGlyphs" fill="#1a1a1a" stroke="#1a1a1a" stroke-width="0.16">G12A</text>
<path d="M98.7 523.9V517.5H112.3V523.9" fill="none" stroke="#333" stroke-width="0.8"/>
<text x="106.6" y="515.6" font-size="6.9" text-anchor="middle" textLength="28.4" lengthAdjust="spacingAndGlyphs" fill="#1a1a1a" stroke="#1a1a1a" stroke-width="0.1">p=0.0411</text>
<line x1="147.7" y1="629" x2="147.7" y2="633.3" stroke="#333" stroke-width="1"/>
<text transform="translate(151.3,637) rotate(-90)" font-size="10.9" text-anchor="end" fill="#1a1a1a" stroke="#1a1a1a" stroke-width="0.16">Baseline</text>
<line x1="161.3" y1="629" x2="161.3" y2="633.3" stroke="#333" stroke-width="1"/>
<text transform="translate(164.9,637) rotate(-90)" font-size="10.9" text-anchor="end" fill="#1a1a1a" stroke="#1a1a1a" stroke-width="0.16">Peak</text>
<line x1="174.8" y1="629" x2="174.8" y2="633.3" stroke="#333" stroke-width="1"/>
<text transform="translate(178.4,637) rotate(-90)" font-size="10.9" text-anchor="end" fill="#1a1a1a" stroke="#1a1a1a" stroke-width="0.16">Late</text>
<text x="163.5" y="493.1" font-size="10.7" text-anchor="middle" textLength="27" lengthAdjust="spacingAndGlyphs" fill="#1a1a1a" stroke="#1a1a1a" stroke-width="0.16">G12R</text>
<path d="M147.7 523.9V517.5H161.3V523.9" fill="none" stroke="#333" stroke-width="0.8"/>
<text x="156.5" y="515.6" font-size="6.9" text-anchor="middle" textLength="28.4" lengthAdjust="spacingAndGlyphs" fill="#1a1a1a" stroke="#1a1a1a" stroke-width="0.1">p=0.0140</text>
<line x1="196.7" y1="629" x2="196.7" y2="633.3" stroke="#333" stroke-width="1"/>
<text transform="translate(200.3,637) rotate(-90)" font-size="10.9" text-anchor="end" fill="#1a1a1a" stroke="#1a1a1a" stroke-width="0.16">Baseline</text>
<line x1="210.3" y1="629" x2="210.3" y2="633.3" stroke="#333" stroke-width="1"/>
<text transform="translate(213.9,637) rotate(-90)" font-size="10.9" text-anchor="end" fill="#1a1a1a" stroke="#1a1a1a" stroke-width="0.16">Peak</text>
<line x1="223.8" y1="629" x2="223.8" y2="633.3" stroke="#333" stroke-width="1"/>
<text transform="translate(227.4,637) rotate(-90)" font-size="10.9" text-anchor="end" fill="#1a1a1a" stroke="#1a1a1a" stroke-width="0.16">Late</text>
<text x="212.5" y="493.1" font-size="10.7" text-anchor="middle" textLength="27" lengthAdjust="spacingAndGlyphs" fill="#1a1a1a" stroke="#1a1a1a" stroke-width="0.16">G12C</text>
<path d="M196.7 523.9V517.5H210.3V523.9" fill="none" stroke="#333" stroke-width="0.8"/>
<text x="204.9" y="515.6" font-size="6.9" text-anchor="middle" textLength="28.4" lengthAdjust="spacingAndGlyphs" fill="#1a1a1a" stroke="#1a1a1a" stroke-width="0.1">p=0.0025</text>
<line x1="245.7" y1="629" x2="245.7" y2="633.3" stroke="#333" stroke-width="1"/>
<text transform="translate(249.3,637) rotate(-90)" font-size="10.9" text-anchor="end" fill="#1a1a1a" stroke="#1a1a1a" stroke-width="0.16">Baseline</text>
<line x1="259.3" y1="629" x2="259.3" y2="633.3" stroke="#333" stroke-width="1"/>
<text transform="translate(262.9,637) rotate(-90)" font-size="10.9" text-anchor="end" fill="#1a1a1a" stroke="#1a1a1a" stroke-width="0.16">Peak</text>
<line x1="272.8" y1="629" x2="272.8" y2="633.3" stroke="#333" stroke-width="1"/>
<text transform="translate(276.4,637) rotate(-90)" font-size="10.9" text-anchor="end" fill="#1a1a1a" stroke="#1a1a1a" stroke-width="0.16">Late</text>
<text x="263.9" y="493.1" font-size="10.7" text-anchor="middle" textLength="27" lengthAdjust="spacingAndGlyphs" fill="#1a1a1a" stroke="#1a1a1a" stroke-width="0.16">G12D</text>
<line x1="294.7" y1="629" x2="294.7" y2="633.3" stroke="#333" stroke-width="1"/>
<text transform="translate(298.3,637) rotate(-90)" font-size="10.9" text-anchor="end" fill="#1a1a1a" stroke="#1a1a1a" stroke-width="0.16">Baseline</text>
<line x1="308.3" y1="629" x2="308.3" y2="633.3" stroke="#333" stroke-width="1"/>
<text transform="translate(311.9,637) rotate(-90)" font-size="10.9" text-anchor="end" fill="#1a1a1a" stroke="#1a1a1a" stroke-width="0.16">Peak</text>
<line x1="321.8" y1="629" x2="321.8" y2="633.3" stroke="#333" stroke-width="1"/>
<text transform="translate(325.4,637) rotate(-90)" font-size="10.9" text-anchor="end" fill="#1a1a1a" stroke="#1a1a1a" stroke-width="0.16">Late</text>
<text x="308.4" y="493.1" font-size="10.7" text-anchor="middle" textLength="27" lengthAdjust="spacingAndGlyphs" fill="#1a1a1a" stroke="#1a1a1a" stroke-width="0.16">G13D</text>
<path d="M294.7 523.9V517.5H308.3V523.9" fill="none" stroke="#333" stroke-width="0.8"/>
<text x="304.6" y="515.6" font-size="6.9" text-anchor="middle" textLength="28.4" lengthAdjust="spacingAndGlyphs" fill="#1a1a1a" stroke="#1a1a1a" stroke-width="0.1">p=0.0067</text>
<path d="M49.7 574.9L63.3 555.4L76.8 538.9 M49.7 588L63.3 530.8L76.8 587.1 M49.7 593L63.3 560.1L76.8 552.5 M49.7 596.7L63.3 564L76.8 550.2 M49.7 600.4L63.3 572.4L76.8 561.3 M49.7 604.1L63.3 576.4L76.8 565.7 M49.7 598L63.3 579.8L76.8 582 M49.7 602L63.3 581.7L76.8 592 M49.7 595L63.3 596.7L76.8 600.4 M49.7 613.2L63.3 599.7L76.8 597.5 M49.7 600.4L63.3 601.1L76.8 604.4 M98.7 574L112.3 551.8L125.8 560.2 M98.7 597.1L112.3 569.5L125.8 578.4 M98.7 594.2L112.3 572.8L125.8 569.1 M98.7 585.8L112.3 577.2L125.8 598.2 M98.7 592L112.3 582.4L125.8 592.7 M98.7 599L112.3 585L125.8 595 M98.7 590.8L112.3 587.8L125.8 584.9 M98.7 607.5L112.3 591.2L125.8 589 M98.7 602L112.3 596.1L125.8 587 M98.7 622.7L112.3 597.1L125.8 600.1 M147.7 556.1L161.3 538L174.8 576.4 M147.7 586.1L161.3 551.3L174.8 553.6 M147.7 590L161.3 562.8L174.8 559.1 M147.7 593L161.3 568L174.8 527.7 M147.7 596.7L161.3 573.1L174.8 566.9 M147.7 599L161.3 576.8L174.8 571.3 M147.7 602.6L161.3 579L174.8 590.8 M147.7 605L161.3 589L174.8 593.8 M147.7 608.5L161.3 593.8L174.8 596.7 M147.7 617.7L161.3 595.2L174.8 600.4 M196.7 561L210.3 552.4L223.8 561.7 M196.7 589.8L210.3 566.6L223.8 555.1 M196.7 605.2L210.3 572L223.8 573.1 M196.7 594.2L210.3 574.3L223.8 569.1 M196.7 596L210.3 576.9L223.8 578.4 M196.7 598.2L210.3 580L223.8 589.8 M196.7 611.1L210.3 585.3L223.8 586.1 M196.7 601L210.3 589L223.8 600.5 M196.7 608.2L210.3 594.2L223.8 595.7 M245.7 534.7L259.3 568.4L272.8 575.4 M245.7 596L259.3 581.6L272.8 584 M245.7 594.9L259.3 583.9L272.8 586.8 M245.7 592L259.3 586.8L272.8 593.7 M245.7 589L259.3 589L272.8 582.4 M245.7 598.2L259.3 592L272.8 597 M245.7 600.8L259.3 594.9L272.8 590.2 M245.7 607L259.3 598.2L272.8 606 M245.7 615.3L259.3 602.3L272.8 603 M245.7 628.1L259.3 611.4L272.8 600.1 M294.7 569.1L308.3 551.4L321.8 580.5 M294.7 580.9L308.3 565L321.8 575 M294.7 594.6L308.3 570.6L321.8 586.8 M294.7 599L308.3 575L321.8 567.6 M294.7 597.6L308.3 580.2L321.8 571.3 M294.7 596L308.3 584.3L321.8 594.9 M294.7 600.5L308.3 587.5L321.8 590 M294.7 602L308.3 590.2L321.8 603.5 M294.7 603.8L308.3 597.6L321.8 597 M294.7 610.4L308.3 600.8L321.8 608.9 M294.7 606.7L308.3 603.5L321.8 599.3" fill="none" stroke="#111" stroke-width="0.85"/>
<g stroke="#111" stroke-width="0.8">
<circle cx="49.7" cy="574.9" r="2.15" fill="#b4b4b4"/>
<circle cx="49.7" cy="587.9" r="2.15" fill="#b4b4b4"/>
<circle cx="49.7" cy="587.9" r="2.15" fill="#b4b4b4"/>
<circle cx="49.7" cy="593" r="2.15" fill="#b4b4b4"/>
<circle cx="49.7" cy="595" r="2.15" fill="#b4b4b4"/>
<circle cx="49.7" cy="596.7" r="2.15" fill="#b4b4b4"/>
<circle cx="49.7" cy="598" r="2.15" fill="#b4b4b4"/>
<circle cx="49.7" cy="600.4" r="2.15" fill="#b4b4b4"/>
<circle cx="49.7" cy="602" r="2.15" fill="#b4b4b4"/>
<circle cx="49.7" cy="604.1" r="2.15" fill="#b4b4b4"/>
<circle cx="49.7" cy="613.2" r="2.15" fill="#b4b4b4"/>
<circle cx="63.3" cy="530.8" r="2.15" fill="#f7a11a"/>
<circle cx="63.3" cy="555.4" r="2.15" fill="#f7a11a"/>
<circle cx="63.3" cy="560.1" r="2.15" fill="#f7a11a"/>
<circle cx="63.3" cy="564" r="2.15" fill="#f7a11a"/>
<circle cx="63.3" cy="572.4" r="2.15" fill="#f7a11a"/>
<circle cx="63.3" cy="576.4" r="2.15" fill="#f7a11a"/>
<circle cx="63.3" cy="579.8" r="2.15" fill="#f7a11a"/>
<circle cx="63.3" cy="581.7" r="2.15" fill="#f7a11a"/>
<circle cx="63.3" cy="596.7" r="2.15" fill="#f7a11a"/>
<circle cx="63.3" cy="599.7" r="2.15" fill="#f7a11a"/>
<circle cx="63.3" cy="601.1" r="2.15" fill="#f7a11a"/>
<circle cx="76.8" cy="538.9" r="2.15" fill="#f7a11a"/>
<circle cx="76.8" cy="550.2" r="2.15" fill="#f7a11a"/>
<circle cx="76.8" cy="552.5" r="2.15" fill="#f7a11a"/>
<circle cx="76.8" cy="561.3" r="2.15" fill="#f7a11a"/>
<circle cx="76.8" cy="565.7" r="2.15" fill="#f7a11a"/>
<circle cx="76.8" cy="582" r="2.15" fill="#f7a11a"/>
<circle cx="76.8" cy="587.1" r="2.15" fill="#f7a11a"/>
<circle cx="76.8" cy="592" r="2.15" fill="#f7a11a"/>
<circle cx="76.8" cy="597.5" r="2.15" fill="#f7a11a"/>
<circle cx="76.8" cy="600.4" r="2.15" fill="#f7a11a"/>
<circle cx="76.8" cy="604.4" r="2.15" fill="#f7a11a"/>
<circle cx="98.7" cy="574" r="2.15" fill="#b4b4b4"/>
<circle cx="98.7" cy="585.8" r="2.15" fill="#b4b4b4"/>
<circle cx="98.7" cy="590.8" r="2.15" fill="#b4b4b4"/>
<circle cx="98.7" cy="592" r="2.15" fill="#b4b4b4"/>
<circle cx="98.7" cy="594.2" r="2.15" fill="#b4b4b4"/>
<circle cx="98.7" cy="597.1" r="2.15" fill="#b4b4b4"/>
<circle cx="98.7" cy="599" r="2.15" fill="#b4b4b4"/>
<circle cx="98.7" cy="602" r="2.15" fill="#b4b4b4"/>
<circle cx="98.7" cy="607.5" r="2.15" fill="#b4b4b4"/>
<circle cx="98.7" cy="622.7" r="2.15" fill="#b4b4b4"/>
<circle cx="112.3" cy="551.8" r="2.15" fill="#f26522"/>
<circle cx="112.3" cy="569.5" r="2.15" fill="#f26522"/>
<circle cx="112.3" cy="572.8" r="2.15" fill="#f26522"/>
<circle cx="112.3" cy="577.2" r="2.15" fill="#f26522"/>
<circle cx="112.3" cy="582.4" r="2.15" fill="#f26522"/>
<circle cx="112.3" cy="585" r="2.15" fill="#f26522"/>
<circle cx="112.3" cy="587.8" r="2.15" fill="#f26522"/>
<circle cx="112.3" cy="591.2" r="2.15" fill="#f26522"/>
<circle cx="112.3" cy="596.1" r="2.15" fill="#f26522"/>
<circle cx="112.3" cy="597.1" r="2.15" fill="#f26522"/>
<circle cx="125.8" cy="560.2" r="2.15" fill="#f26522"/>
<circle cx="125.8" cy="569.1" r="2.15" fill="#f26522"/>
<circle cx="125.8" cy="578.4" r="2.15" fill="#f26522"/>
<circle cx="125.8" cy="584.9" r="2.15" fill="#f26522"/>
<circle cx="125.8" cy="587" r="2.15" fill="#f26522"/>
<circle cx="125.8" cy="589" r="2.15" fill="#f26522"/>
<circle cx="125.8" cy="592.7" r="2.15" fill="#f26522"/>
<circle cx="125.8" cy="595" r="2.15" fill="#f26522"/>
<circle cx="125.8" cy="598.2" r="2.15" fill="#f26522"/>
<circle cx="125.8" cy="600.1" r="2.15" fill="#f26522"/>
<circle cx="147.7" cy="556.1" r="2.15" fill="#b4b4b4"/>
<circle cx="147.7" cy="586.1" r="2.15" fill="#b4b4b4"/>
<circle cx="147.7" cy="590" r="2.15" fill="#b4b4b4"/>
<circle cx="147.7" cy="593" r="2.15" fill="#b4b4b4"/>
<circle cx="147.7" cy="596.7" r="2.15" fill="#b4b4b4"/>
<circle cx="147.7" cy="599" r="2.15" fill="#b4b4b4"/>
<circle cx="147.7" cy="602.6" r="2.15" fill="#b4b4b4"/>
<circle cx="147.7" cy="605" r="2.15" fill="#b4b4b4"/>
<circle cx="147.7" cy="608.5" r="2.15" fill="#b4b4b4"/>
<circle cx="147.7" cy="617.7" r="2.15" fill="#b4b4b4"/>
<circle cx="161.3" cy="538" r="2.15" fill="#9e1c22"/>
<circle cx="161.3" cy="551.3" r="2.15" fill="#9e1c22"/>
<circle cx="161.3" cy="562.8" r="2.15" fill="#9e1c22"/>
<circle cx="161.3" cy="568" r="2.15" fill="#9e1c22"/>
<circle cx="161.3" cy="573.1" r="2.15" fill="#9e1c22"/>
<circle cx="161.3" cy="576.8" r="2.15" fill="#9e1c22"/>
<circle cx="161.3" cy="579" r="2.15" fill="#9e1c22"/>
<circle cx="161.3" cy="589" r="2.15" fill="#9e1c22"/>
<circle cx="161.3" cy="593.8" r="2.15" fill="#9e1c22"/>
<circle cx="161.3" cy="595.2" r="2.15" fill="#9e1c22"/>
<circle cx="174.8" cy="527.7" r="2.15" fill="#9e1c22"/>
<circle cx="174.8" cy="553.6" r="2.15" fill="#9e1c22"/>
<circle cx="174.8" cy="559.1" r="2.15" fill="#9e1c22"/>
<circle cx="174.8" cy="566.9" r="2.15" fill="#9e1c22"/>
<circle cx="174.8" cy="571.3" r="2.15" fill="#9e1c22"/>
<circle cx="174.8" cy="576.4" r="2.15" fill="#9e1c22"/>
<circle cx="174.8" cy="590.8" r="2.15" fill="#9e1c22"/>
<circle cx="174.8" cy="593.8" r="2.15" fill="#9e1c22"/>
<circle cx="174.8" cy="596.7" r="2.15" fill="#9e1c22"/>
<circle cx="174.8" cy="600.4" r="2.15" fill="#9e1c22"/>
<circle cx="196.7" cy="561" r="2.15" fill="#b4b4b4"/>
<circle cx="196.7" cy="589.8" r="2.15" fill="#b4b4b4"/>
<circle cx="196.7" cy="594.2" r="2.15" fill="#b4b4b4"/>
<circle cx="196.7" cy="596" r="2.15" fill="#b4b4b4"/>
<circle cx="196.7" cy="598.2" r="2.15" fill="#b4b4b4"/>
<circle cx="196.7" cy="601" r="2.15" fill="#b4b4b4"/>
<circle cx="196.7" cy="605.2" r="2.15" fill="#b4b4b4"/>
<circle cx="196.7" cy="608.2" r="2.15" fill="#b4b4b4"/>
<circle cx="196.7" cy="611.1" r="2.15" fill="#b4b4b4"/>
<circle cx="210.3" cy="552.4" r="2.15" fill="#91479c"/>
<circle cx="210.3" cy="566.6" r="2.15" fill="#91479c"/>
<circle cx="210.3" cy="572" r="2.15" fill="#91479c"/>
<circle cx="210.3" cy="574.3" r="2.15" fill="#91479c"/>
<circle cx="210.3" cy="576.9" r="2.15" fill="#91479c"/>
<circle cx="210.3" cy="580" r="2.15" fill="#91479c"/>
<circle cx="210.3" cy="585.3" r="2.15" fill="#91479c"/>
<circle cx="210.3" cy="589" r="2.15" fill="#91479c"/>
<circle cx="210.3" cy="594.2" r="2.15" fill="#91479c"/>
<circle cx="223.8" cy="555.1" r="2.15" fill="#91479c"/>
<circle cx="223.8" cy="561.7" r="2.15" fill="#91479c"/>
<circle cx="223.8" cy="569.1" r="2.15" fill="#91479c"/>
<circle cx="223.8" cy="573.1" r="2.15" fill="#91479c"/>
<circle cx="223.8" cy="578.4" r="2.15" fill="#91479c"/>
<circle cx="223.8" cy="586.1" r="2.15" fill="#91479c"/>
<circle cx="223.8" cy="589.8" r="2.15" fill="#91479c"/>
<circle cx="223.8" cy="595.7" r="2.15" fill="#91479c"/>
<circle cx="223.8" cy="600.5" r="2.15" fill="#91479c"/>
<circle cx="245.7" cy="534.7" r="2.15" fill="#b4b4b4"/>
<circle cx="245.7" cy="589" r="2.15" fill="#b4b4b4"/>
<circle cx="245.7" cy="592" r="2.15" fill="#b4b4b4"/>
<circle cx="245.7" cy="594.9" r="2.15" fill="#b4b4b4"/>
<circle cx="245.7" cy="596" r="2.15" fill="#b4b4b4"/>
<circle cx="245.7" cy="598.2" r="2.15" fill="#b4b4b4"/>
<circle cx="245.7" cy="600.8" r="2.15" fill="#b4b4b4"/>
<circle cx="245.7" cy="607" r="2.15" fill="#b4b4b4"/>
<circle cx="245.7" cy="615.3" r="2.15" fill="#b4b4b4"/>
<circle cx="245.7" cy="628.1" r="2.15" fill="#b4b4b4"/>
<circle cx="259.3" cy="568.4" r="2.15" fill="#5b7fc7"/>
<circle cx="259.3" cy="581.6" r="2.15" fill="#5b7fc7"/>
<circle cx="259.3" cy="583.9" r="2.15" fill="#5b7fc7"/>
<circle cx="259.3" cy="586.8" r="2.15" fill="#5b7fc7"/>
<circle cx="259.3" cy="589" r="2.15" fill="#5b7fc7"/>
<circle cx="259.3" cy="592" r="2.15" fill="#5b7fc7"/>
<circle cx="259.3" cy="594.9" r="2.15" fill="#5b7fc7"/>
<circle cx="259.3" cy="598.2" r="2.15" fill="#5b7fc7"/>
<circle cx="259.3" cy="602.3" r="2.15" fill="#5b7fc7"/>
<circle cx="259.3" cy="611.4" r="2.15" fill="#5b7fc7"/>
<circle cx="272.8" cy="575.4" r="2.15" fill="#5b7fc7"/>
<circle cx="272.8" cy="582.4" r="2.15" fill="#5b7fc7"/>
<circle cx="272.8" cy="584" r="2.15" fill="#5b7fc7"/>
<circle cx="272.8" cy="586.8" r="2.15" fill="#5b7fc7"/>
<circle cx="272.8" cy="590.2" r="2.15" fill="#5b7fc7"/>
<circle cx="272.8" cy="593.7" r="2.15" fill="#5b7fc7"/>
<circle cx="272.8" cy="597" r="2.15" fill="#5b7fc7"/>
<circle cx="272.8" cy="600.1" r="2.15" fill="#5b7fc7"/>
<circle cx="272.8" cy="603" r="2.15" fill="#5b7fc7"/>
<circle cx="272.8" cy="606" r="2.15" fill="#5b7fc7"/>
<circle cx="294.7" cy="569.1" r="2.15" fill="#b4b4b4"/>
<circle cx="294.7" cy="580.9" r="2.15" fill="#b4b4b4"/>
<circle cx="294.7" cy="594.6" r="2.15" fill="#b4b4b4"/>
<circle cx="294.7" cy="596" r="2.15" fill="#b4b4b4"/>
<circle cx="294.7" cy="597.6" r="2.15" fill="#b4b4b4"/>
<circle cx="294.7" cy="599" r="2.15" fill="#b4b4b4"/>
<circle cx="294.7" cy="600.5" r="2.15" fill="#b4b4b4"/>
<circle cx="294.7" cy="602" r="2.15" fill="#b4b4b4"/>
<circle cx="294.7" cy="603.8" r="2.15" fill="#b4b4b4"/>
<circle cx="294.7" cy="606.7" r="2.15" fill="#b4b4b4"/>
<circle cx="294.7" cy="610.4" r="2.15" fill="#b4b4b4"/>
<circle cx="308.3" cy="551.4" r="2.15" fill="#a9cdf0"/>
<circle cx="308.3" cy="565" r="2.15" fill="#a9cdf0"/>
<circle cx="308.3" cy="570.6" r="2.15" fill="#a9cdf0"/>
<circle cx="308.3" cy="575" r="2.15" fill="#a9cdf0"/>
<circle cx="308.3" cy="580.2" r="2.15" fill="#a9cdf0"/>
<circle cx="308.3" cy="584.3" r="2.15" fill="#a9cdf0"/>
<circle cx="308.3" cy="587.5" r="2.15" fill="#a9cdf0"/>
<circle cx="308.3" cy="590.2" r="2.15" fill="#a9cdf0"/>
<circle cx="308.3" cy="597.6" r="2.15" fill="#a9cdf0"/>
<circle cx="308.3" cy="600.8" r="2.15" fill="#a9cdf0"/>
<circle cx="308.3" cy="603.5" r="2.15" fill="#a9cdf0"/>
<circle cx="321.8" cy="567.6" r="2.15" fill="#a9cdf0"/>
<circle cx="321.8" cy="571.3" r="2.15" fill="#a9cdf0"/>
<circle cx="321.8" cy="575" r="2.15" fill="#a9cdf0"/>
<circle cx="321.8" cy="580.5" r="2.15" fill="#a9cdf0"/>
<circle cx="321.8" cy="586.8" r="2.15" fill="#a9cdf0"/>
<circle cx="321.8" cy="590" r="2.15" fill="#a9cdf0"/>
<circle cx="321.8" cy="594.9" r="2.15" fill="#a9cdf0"/>
<circle cx="321.8" cy="597" r="2.15" fill="#a9cdf0"/>
<circle cx="321.8" cy="599.3" r="2.15" fill="#a9cdf0"/>
<circle cx="321.8" cy="603.5" r="2.15" fill="#a9cdf0"/>
<circle cx="321.8" cy="608.9" r="2.15" fill="#a9cdf0"/>
</g>
<text x="495.5" y="475.4" font-size="12" text-anchor="middle" textLength="101.7" lengthAdjust="spacingAndGlyphs" fill="#1a1a1a" stroke="#1a1a1a" stroke-width="0.16">Activated CD8 Teff</text>
<line x1="371.5" y1="478.3" x2="630.5" y2="478.3" stroke="#333" stroke-width="1"/>
<line x1="365.6" y1="510.1" x2="365.6" y2="628.6" stroke="#333" stroke-width="1"/>
<line x1="361.3" y1="510.6" x2="365.6" y2="510.6" stroke="#333" stroke-width="1"/>
<text x="360.7" y="513.98" font-size="9.4" text-anchor="end" fill="#1a1a1a" stroke="#1a1a1a" stroke-width="0.14">2</text>
<line x1="361.3" y1="540" x2="365.6" y2="540" stroke="#333" stroke-width="1"/>
<text x="360.7" y="543.38" font-size="9.4" text-anchor="end" fill="#1a1a1a" stroke="#1a1a1a" stroke-width="0.14">1</text>
<line x1="361.3" y1="569.4" x2="365.6" y2="569.4" stroke="#333" stroke-width="1"/>
<text x="360.7" y="572.78" font-size="9.4" text-anchor="end" fill="#1a1a1a" stroke="#1a1a1a" stroke-width="0.14">0</text>
<line x1="361.3" y1="598.8" x2="365.6" y2="598.8" stroke="#333" stroke-width="1"/>
<text x="360.7" y="602.18" font-size="9.4" text-anchor="end" fill="#1a1a1a" stroke="#1a1a1a" stroke-width="0.14">-1</text>
<line x1="361.3" y1="628.1" x2="365.6" y2="628.1" stroke="#333" stroke-width="1"/>
<text x="360.7" y="631.48" font-size="9.4" text-anchor="end" fill="#1a1a1a" stroke="#1a1a1a" stroke-width="0.14">-2</text>
<line x1="365.1" y1="628.1" x2="657.8" y2="628.1" stroke="#333" stroke-width="1"/>
<line x1="412.3" y1="510" x2="412.3" y2="626.1" stroke="#555" stroke-width="1" stroke-dasharray="1 2.95"/>
<line x1="461.64" y1="510" x2="461.64" y2="626.1" stroke="#555" stroke-width="1" stroke-dasharray="1 2.95"/>
<line x1="510.98" y1="510" x2="510.98" y2="626.1" stroke="#555" stroke-width="1" stroke-dasharray="1 2.95"/>
<line x1="560.32" y1="510" x2="560.32" y2="626.1" stroke="#555" stroke-width="1" stroke-dasharray="1 2.95"/>
<line x1="609.66" y1="510" x2="609.66" y2="626.1" stroke="#555" stroke-width="1" stroke-dasharray="1 2.95"/>
<line x1="374.2" y1="628.1" x2="374.2" y2="632.4" stroke="#333" stroke-width="1"/>
<text transform="translate(377.8,636.1) rotate(-90)" font-size="10.9" text-anchor="end" fill="#1a1a1a" stroke="#1a1a1a" stroke-width="0.16">Baseline</text>
<line x1="387.7" y1="628.1" x2="387.7" y2="632.4" stroke="#333" stroke-width="1"/>
<text transform="translate(391.3,636.1) rotate(-90)" font-size="10.9" text-anchor="end" fill="#1a1a1a" stroke="#1a1a1a" stroke-width="0.16">Peak</text>
<line x1="401.2" y1="628.1" x2="401.2" y2="632.4" stroke="#333" stroke-width="1"/>
<text transform="translate(404.8,636.1) rotate(-90)" font-size="10.9" text-anchor="end" fill="#1a1a1a" stroke="#1a1a1a" stroke-width="0.16">Late</text>
<text x="390.8" y="493.4" font-size="10.7" text-anchor="middle" textLength="27" lengthAdjust="spacingAndGlyphs" fill="#1a1a1a" stroke="#1a1a1a" stroke-width="0.16">G12V</text>
<line x1="423.54" y1="628.1" x2="423.54" y2="632.4" stroke="#333" stroke-width="1"/>
<text transform="translate(427.14,636.1) rotate(-90)" font-size="10.9" text-anchor="end" fill="#1a1a1a" stroke="#1a1a1a" stroke-width="0.16">Baseline</text>
<line x1="437.04" y1="628.1" x2="437.04" y2="632.4" stroke="#333" stroke-width="1"/>
<text transform="translate(440.64,636.1) rotate(-90)" font-size="10.9" text-anchor="end" fill="#1a1a1a" stroke="#1a1a1a" stroke-width="0.16">Peak</text>
<line x1="450.54" y1="628.1" x2="450.54" y2="632.4" stroke="#333" stroke-width="1"/>
<text transform="translate(454.14,636.1) rotate(-90)" font-size="10.9" text-anchor="end" fill="#1a1a1a" stroke="#1a1a1a" stroke-width="0.16">Late</text>
<text x="437.9" y="493.4" font-size="10.7" text-anchor="middle" textLength="27" lengthAdjust="spacingAndGlyphs" fill="#1a1a1a" stroke="#1a1a1a" stroke-width="0.16">G12A</text>
<line x1="472.88" y1="628.1" x2="472.88" y2="632.4" stroke="#333" stroke-width="1"/>
<text transform="translate(476.48,636.1) rotate(-90)" font-size="10.9" text-anchor="end" fill="#1a1a1a" stroke="#1a1a1a" stroke-width="0.16">Baseline</text>
<line x1="486.38" y1="628.1" x2="486.38" y2="632.4" stroke="#333" stroke-width="1"/>
<text transform="translate(489.98,636.1) rotate(-90)" font-size="10.9" text-anchor="end" fill="#1a1a1a" stroke="#1a1a1a" stroke-width="0.16">Peak</text>
<line x1="499.88" y1="628.1" x2="499.88" y2="632.4" stroke="#333" stroke-width="1"/>
<text transform="translate(503.48,636.1) rotate(-90)" font-size="10.9" text-anchor="end" fill="#1a1a1a" stroke="#1a1a1a" stroke-width="0.16">Late</text>
<text x="489.5" y="493.4" font-size="10.7" text-anchor="middle" textLength="27" lengthAdjust="spacingAndGlyphs" fill="#1a1a1a" stroke="#1a1a1a" stroke-width="0.16">G12R</text>
<line x1="522.22" y1="628.1" x2="522.22" y2="632.4" stroke="#333" stroke-width="1"/>
<text transform="translate(525.82,636.1) rotate(-90)" font-size="10.9" text-anchor="end" fill="#1a1a1a" stroke="#1a1a1a" stroke-width="0.16">Baseline</text>
<line x1="535.72" y1="628.1" x2="535.72" y2="632.4" stroke="#333" stroke-width="1"/>
<text transform="translate(539.32,636.1) rotate(-90)" font-size="10.9" text-anchor="end" fill="#1a1a1a" stroke="#1a1a1a" stroke-width="0.16">Peak</text>
<line x1="549.22" y1="628.1" x2="549.22" y2="632.4" stroke="#333" stroke-width="1"/>
<text transform="translate(552.82,636.1) rotate(-90)" font-size="10.9" text-anchor="end" fill="#1a1a1a" stroke="#1a1a1a" stroke-width="0.16">Late</text>
<text x="538.6" y="493.4" font-size="10.7" text-anchor="middle" textLength="27" lengthAdjust="spacingAndGlyphs" fill="#1a1a1a" stroke="#1a1a1a" stroke-width="0.16">G12C</text>
<line x1="571.56" y1="628.1" x2="571.56" y2="632.4" stroke="#333" stroke-width="1"/>
<text transform="translate(575.16,636.1) rotate(-90)" font-size="10.9" text-anchor="end" fill="#1a1a1a" stroke="#1a1a1a" stroke-width="0.16">Baseline</text>
<line x1="585.06" y1="628.1" x2="585.06" y2="632.4" stroke="#333" stroke-width="1"/>
<text transform="translate(588.66,636.1) rotate(-90)" font-size="10.9" text-anchor="end" fill="#1a1a1a" stroke="#1a1a1a" stroke-width="0.16">Peak</text>
<line x1="598.56" y1="628.1" x2="598.56" y2="632.4" stroke="#333" stroke-width="1"/>
<text transform="translate(602.16,636.1) rotate(-90)" font-size="10.9" text-anchor="end" fill="#1a1a1a" stroke="#1a1a1a" stroke-width="0.16">Late</text>
<text x="590.5" y="493.4" font-size="10.7" text-anchor="middle" textLength="27" lengthAdjust="spacingAndGlyphs" fill="#1a1a1a" stroke="#1a1a1a" stroke-width="0.16">G12D</text>
<line x1="620.9" y1="628.1" x2="620.9" y2="632.4" stroke="#333" stroke-width="1"/>
<text transform="translate(624.5,636.1) rotate(-90)" font-size="10.9" text-anchor="end" fill="#1a1a1a" stroke="#1a1a1a" stroke-width="0.16">Baseline</text>
<line x1="634.4" y1="628.1" x2="634.4" y2="632.4" stroke="#333" stroke-width="1"/>
<text transform="translate(638,636.1) rotate(-90)" font-size="10.9" text-anchor="end" fill="#1a1a1a" stroke="#1a1a1a" stroke-width="0.16">Peak</text>
<line x1="647.9" y1="628.1" x2="647.9" y2="632.4" stroke="#333" stroke-width="1"/>
<text transform="translate(651.5,636.1) rotate(-90)" font-size="10.9" text-anchor="end" fill="#1a1a1a" stroke="#1a1a1a" stroke-width="0.16">Late</text>
<text x="635.4" y="493.4" font-size="10.7" text-anchor="middle" textLength="27" lengthAdjust="spacingAndGlyphs" fill="#1a1a1a" stroke="#1a1a1a" stroke-width="0.16">G13D</text>
<path d="M374.2 572.6L387.7 553.3L401.2 549.4 M374.2 568.2L387.7 566.6L401.2 556 M374.2 576L387.7 566.6L401.2 572.6 M374.2 570.4L387.7 568L401.2 568.2 M374.2 571L387.7 569.3L401.2 570.5 M374.2 574.9L387.7 569.8L401.2 569.3 M374.2 569L387.7 570.4L401.2 576.5 M423.54 533.3L437.04 569.9L450.54 572.1 M423.54 559.3L437.04 548.3L450.54 586.3 M423.54 564.3L437.04 565.4L450.54 563.8 M423.54 567.7L437.04 568.8L450.54 569.3 M423.54 569.9L437.04 573.8L450.54 574.3 M423.54 573.8L437.04 584.5L450.54 583.2 M423.54 571L437.04 571L450.54 576 M423.54 566L437.04 567L450.54 570 M472.88 567L486.38 552.5L499.88 566.9 M472.88 564L486.38 567L499.88 565.5 M472.88 569.4L486.38 568L499.88 564.3 M472.88 572.4L486.38 569L499.88 576.8 M472.88 570.5L486.38 570.2L499.88 569.4 M472.88 576.8L486.38 571.5L499.88 571.5 M472.88 605.3L486.38 573.1L499.88 568 M522.22 567.1L535.72 540.7L549.22 563.8 M522.22 574.3L535.72 560.2L549.22 572.7 M522.22 564.9L535.72 566.2L549.22 569.3 M522.22 569.9L535.72 568L549.22 566.6 M522.22 571L535.72 569.3L549.22 570 M522.22 568L535.72 570.4L549.22 574.7 M522.22 585.7L535.72 571L549.22 579.9 M571.56 558.5L585.06 554.7L598.56 544.1 M571.56 572.7L585.06 560.5L598.56 581.5 M571.56 570.4L585.06 564.7L598.56 569.3 M571.56 567.1L585.06 567L598.56 570 M571.56 571.5L585.06 569.3L598.56 567.1 M571.56 569L585.06 570.4L598.56 576 M571.56 578.8L585.06 571L598.56 579.3 M620.9 553L634.4 516.9L647.9 569.7 M620.9 571L634.4 555.3L647.9 564.9 M620.9 569.8L634.4 567L647.9 572.6 M620.9 572.6L634.4 568.5L647.9 575.5 M620.9 569.3L634.4 569.9L647.9 568 M620.9 563.7L634.4 570.5L647.9 579.5 M620.9 570.6L634.4 571L647.9 583.9" fill="none" stroke="#111" stroke-width="0.85"/>
<g stroke="#111" stroke-width="0.8">
<circle cx="374.2" cy="568.2" r="2.15" fill="#b4b4b4"/>
<circle cx="374.2" cy="569" r="2.15" fill="#b4b4b4"/>
<circle cx="374.2" cy="570.4" r="2.15" fill="#b4b4b4"/>
<circle cx="374.2" cy="571" r="2.15" fill="#b4b4b4"/>
<circle cx="374.2" cy="572.6" r="2.15" fill="#b4b4b4"/>
<circle cx="374.2" cy="574.9" r="2.15" fill="#b4b4b4"/>
<circle cx="374.2" cy="576" r="2.15" fill="#b4b4b4"/>
<circle cx="387.7" cy="553.3" r="2.15" fill="#f7a11a"/>
<circle cx="387.7" cy="566.6" r="2.15" fill="#f7a11a"/>
<circle cx="387.7" cy="566.6" r="2.15" fill="#f7a11a"/>
<circle cx="387.7" cy="568" r="2.15" fill="#f7a11a"/>
<circle cx="387.7" cy="569.3" r="2.15" fill="#f7a11a"/>
<circle cx="387.7" cy="569.8" r="2.15" fill="#f7a11a"/>
<circle cx="387.7" cy="570.4" r="2.15" fill="#f7a11a"/>
<circle cx="401.2" cy="549.4" r="2.15" fill="#f7a11a"/>
<circle cx="401.2" cy="556" r="2.15" fill="#f7a11a"/>
<circle cx="401.2" cy="568.2" r="2.15" fill="#f7a11a"/>
<circle cx="401.2" cy="569.3" r="2.15" fill="#f7a11a"/>
<circle cx="401.2" cy="570.5" r="2.15" fill="#f7a11a"/>
<circle cx="401.2" cy="572.6" r="2.15" fill="#f7a11a"/>
<circle cx="401.2" cy="576.5" r="2.15" fill="#f7a11a"/>
<circle cx="423.54" cy="533.3" r="2.15" fill="#b4b4b4"/>
<circle cx="423.54" cy="559.3" r="2.15" fill="#b4b4b4"/>
<circle cx="423.54" cy="564.3" r="2.15" fill="#b4b4b4"/>
<circle cx="423.54" cy="566" r="2.15" fill="#b4b4b4"/>
<circle cx="423.54" cy="567.7" r="2.15" fill="#b4b4b4"/>
<circle cx="423.54" cy="569.9" r="2.15" fill="#b4b4b4"/>
<circle cx="423.54" cy="571" r="2.15" fill="#b4b4b4"/>
<circle cx="423.54" cy="573.8" r="2.15" fill="#b4b4b4"/>
<circle cx="437.04" cy="548.3" r="2.15" fill="#f26522"/>
<circle cx="437.04" cy="565.4" r="2.15" fill="#f26522"/>
<circle cx="437.04" cy="567" r="2.15" fill="#f26522"/>
<circle cx="437.04" cy="568.8" r="2.15" fill="#f26522"/>
<circle cx="437.04" cy="569.9" r="2.15" fill="#f26522"/>
<circle cx="437.04" cy="571" r="2.15" fill="#f26522"/>
<circle cx="437.04" cy="573.8" r="2.15" fill="#f26522"/>
<circle cx="437.04" cy="584.5" r="2.15" fill="#f26522"/>
<circle cx="450.54" cy="563.8" r="2.15" fill="#f26522"/>
<circle cx="450.54" cy="569.3" r="2.15" fill="#f26522"/>
<circle cx="450.54" cy="570" r="2.15" fill="#f26522"/>
<circle cx="450.54" cy="572.1" r="2.15" fill="#f26522"/>
<circle cx="450.54" cy="574.3" r="2.15" fill="#f26522"/>
<circle cx="450.54" cy="576" r="2.15" fill="#f26522"/>
<circle cx="450.54" cy="583.2" r="2.15" fill="#f26522"/>
<circle cx="450.54" cy="586.3" r="2.15" fill="#f26522"/>
<circle cx="472.88" cy="564" r="2.15" fill="#b4b4b4"/>
<circle cx="472.88" cy="567" r="2.15" fill="#b4b4b4"/>
<circle cx="472.88" cy="569.4" r="2.15" fill="#b4b4b4"/>
<circle cx="472.88" cy="570.5" r="2.15" fill="#b4b4b4"/>
<circle cx="472.88" cy="572.4" r="2.15" fill="#b4b4b4"/>
<circle cx="472.88" cy="576.8" r="2.15" fill="#b4b4b4"/>
<circle cx="472.88" cy="605.3" r="2.15" fill="#b4b4b4"/>
<circle cx="486.38" cy="552.5" r="2.15" fill="#9e1c22"/>
<circle cx="486.38" cy="567" r="2.15" fill="#9e1c22"/>
<circle cx="486.38" cy="568" r="2.15" fill="#9e1c22"/>
<circle cx="486.38" cy="569" r="2.15" fill="#9e1c22"/>
<circle cx="486.38" cy="570.2" r="2.15" fill="#9e1c22"/>
<circle cx="486.38" cy="571.5" r="2.15" fill="#9e1c22"/>
<circle cx="486.38" cy="573.1" r="2.15" fill="#9e1c22"/>
<circle cx="499.88" cy="564.3" r="2.15" fill="#9e1c22"/>
<circle cx="499.88" cy="565.5" r="2.15" fill="#9e1c22"/>
<circle cx="499.88" cy="566.9" r="2.15" fill="#9e1c22"/>
<circle cx="499.88" cy="568" r="2.15" fill="#9e1c22"/>
<circle cx="499.88" cy="569.4" r="2.15" fill="#9e1c22"/>
<circle cx="499.88" cy="571.5" r="2.15" fill="#9e1c22"/>
<circle cx="499.88" cy="576.8" r="2.15" fill="#9e1c22"/>
<circle cx="522.22" cy="564.9" r="2.15" fill="#b4b4b4"/>
<circle cx="522.22" cy="567.1" r="2.15" fill="#b4b4b4"/>
<circle cx="522.22" cy="568" r="2.15" fill="#b4b4b4"/>
<circle cx="522.22" cy="569.9" r="2.15" fill="#b4b4b4"/>
<circle cx="522.22" cy="571" r="2.15" fill="#b4b4b4"/>
<circle cx="522.22" cy="574.3" r="2.15" fill="#b4b4b4"/>
<circle cx="522.22" cy="585.7" r="2.15" fill="#b4b4b4"/>
<circle cx="535.72" cy="540.7" r="2.15" fill="#91479c"/>
<circle cx="535.72" cy="560.2" r="2.15" fill="#91479c"/>
<circle cx="535.72" cy="566.2" r="2.15" fill="#91479c"/>
<circle cx="535.72" cy="568" r="2.15" fill="#91479c"/>
<circle cx="535.72" cy="569.3" r="2.15" fill="#91479c"/>
<circle cx="535.72" cy="570.4" r="2.15" fill="#91479c"/>
<circle cx="535.72" cy="571" r="2.15" fill="#91479c"/>
<circle cx="549.22" cy="563.8" r="2.15" fill="#91479c"/>
<circle cx="549.22" cy="566.6" r="2.15" fill="#91479c"/>
<circle cx="549.22" cy="569.3" r="2.15" fill="#91479c"/>
<circle cx="549.22" cy="570" r="2.15" fill="#91479c"/>
<circle cx="549.22" cy="572.7" r="2.15" fill="#91479c"/>
<circle cx="549.22" cy="574.7" r="2.15" fill="#91479c"/>
<circle cx="549.22" cy="579.9" r="2.15" fill="#91479c"/>
<circle cx="571.56" cy="558.5" r="2.15" fill="#b4b4b4"/>
<circle cx="571.56" cy="567.1" r="2.15" fill="#b4b4b4"/>
<circle cx="571.56" cy="569" r="2.15" fill="#b4b4b4"/>
<circle cx="571.56" cy="570.4" r="2.15" fill="#b4b4b4"/>
<circle cx="571.56" cy="571.5" r="2.15" fill="#b4b4b4"/>
<circle cx="571.56" cy="572.7" r="2.15" fill="#b4b4b4"/>
<circle cx="571.56" cy="578.8" r="2.15" fill="#b4b4b4"/>
<circle cx="585.06" cy="554.7" r="2.15" fill="#5b7fc7"/>
<circle cx="585.06" cy="560.5" r="2.15" fill="#5b7fc7"/>
<circle cx="585.06" cy="564.7" r="2.15" fill="#5b7fc7"/>
<circle cx="585.06" cy="567" r="2.15" fill="#5b7fc7"/>
<circle cx="585.06" cy="569.3" r="2.15" fill="#5b7fc7"/>
<circle cx="585.06" cy="570.4" r="2.15" fill="#5b7fc7"/>
<circle cx="585.06" cy="571" r="2.15" fill="#5b7fc7"/>
<circle cx="598.56" cy="544.1" r="2.15" fill="#5b7fc7"/>
<circle cx="598.56" cy="567.1" r="2.15" fill="#5b7fc7"/>
<circle cx="598.56" cy="569.3" r="2.15" fill="#5b7fc7"/>
<circle cx="598.56" cy="570" r="2.15" fill="#5b7fc7"/>
<circle cx="598.56" cy="576" r="2.15" fill="#5b7fc7"/>
<circle cx="598.56" cy="579.3" r="2.15" fill="#5b7fc7"/>
<circle cx="598.56" cy="581.5" r="2.15" fill="#5b7fc7"/>
<circle cx="620.9" cy="553" r="2.15" fill="#b4b4b4"/>
<circle cx="620.9" cy="563.7" r="2.15" fill="#b4b4b4"/>
<circle cx="620.9" cy="569.3" r="2.15" fill="#b4b4b4"/>
<circle cx="620.9" cy="569.8" r="2.15" fill="#b4b4b4"/>
<circle cx="620.9" cy="570.6" r="2.15" fill="#b4b4b4"/>
<circle cx="620.9" cy="571" r="2.15" fill="#b4b4b4"/>
<circle cx="620.9" cy="572.6" r="2.15" fill="#b4b4b4"/>
<circle cx="634.4" cy="516.9" r="2.15" fill="#a9cdf0"/>
<circle cx="634.4" cy="555.3" r="2.15" fill="#a9cdf0"/>
<circle cx="634.4" cy="567" r="2.15" fill="#a9cdf0"/>
<circle cx="634.4" cy="568.5" r="2.15" fill="#a9cdf0"/>
<circle cx="634.4" cy="569.9" r="2.15" fill="#a9cdf0"/>
<circle cx="634.4" cy="570.5" r="2.15" fill="#a9cdf0"/>
<circle cx="634.4" cy="571" r="2.15" fill="#a9cdf0"/>
<circle cx="647.9" cy="564.9" r="2.15" fill="#a9cdf0"/>
<circle cx="647.9" cy="568" r="2.15" fill="#a9cdf0"/>
<circle cx="647.9" cy="569.7" r="2.15" fill="#a9cdf0"/>
<circle cx="647.9" cy="572.6" r="2.15" fill="#a9cdf0"/>
<circle cx="647.9" cy="575.5" r="2.15" fill="#a9cdf0"/>
<circle cx="647.9" cy="579.5" r="2.15" fill="#a9cdf0"/>
<circle cx="647.9" cy="583.9" r="2.15" fill="#a9cdf0"/>
</g>
<text x="2.6" y="233.6" font-size="16" font-weight="bold" fill="#111">c</text>
<text x="2.5" y="477.6" font-size="15.8" font-weight="bold" fill="#111">d</text>
</svg></body></html>
